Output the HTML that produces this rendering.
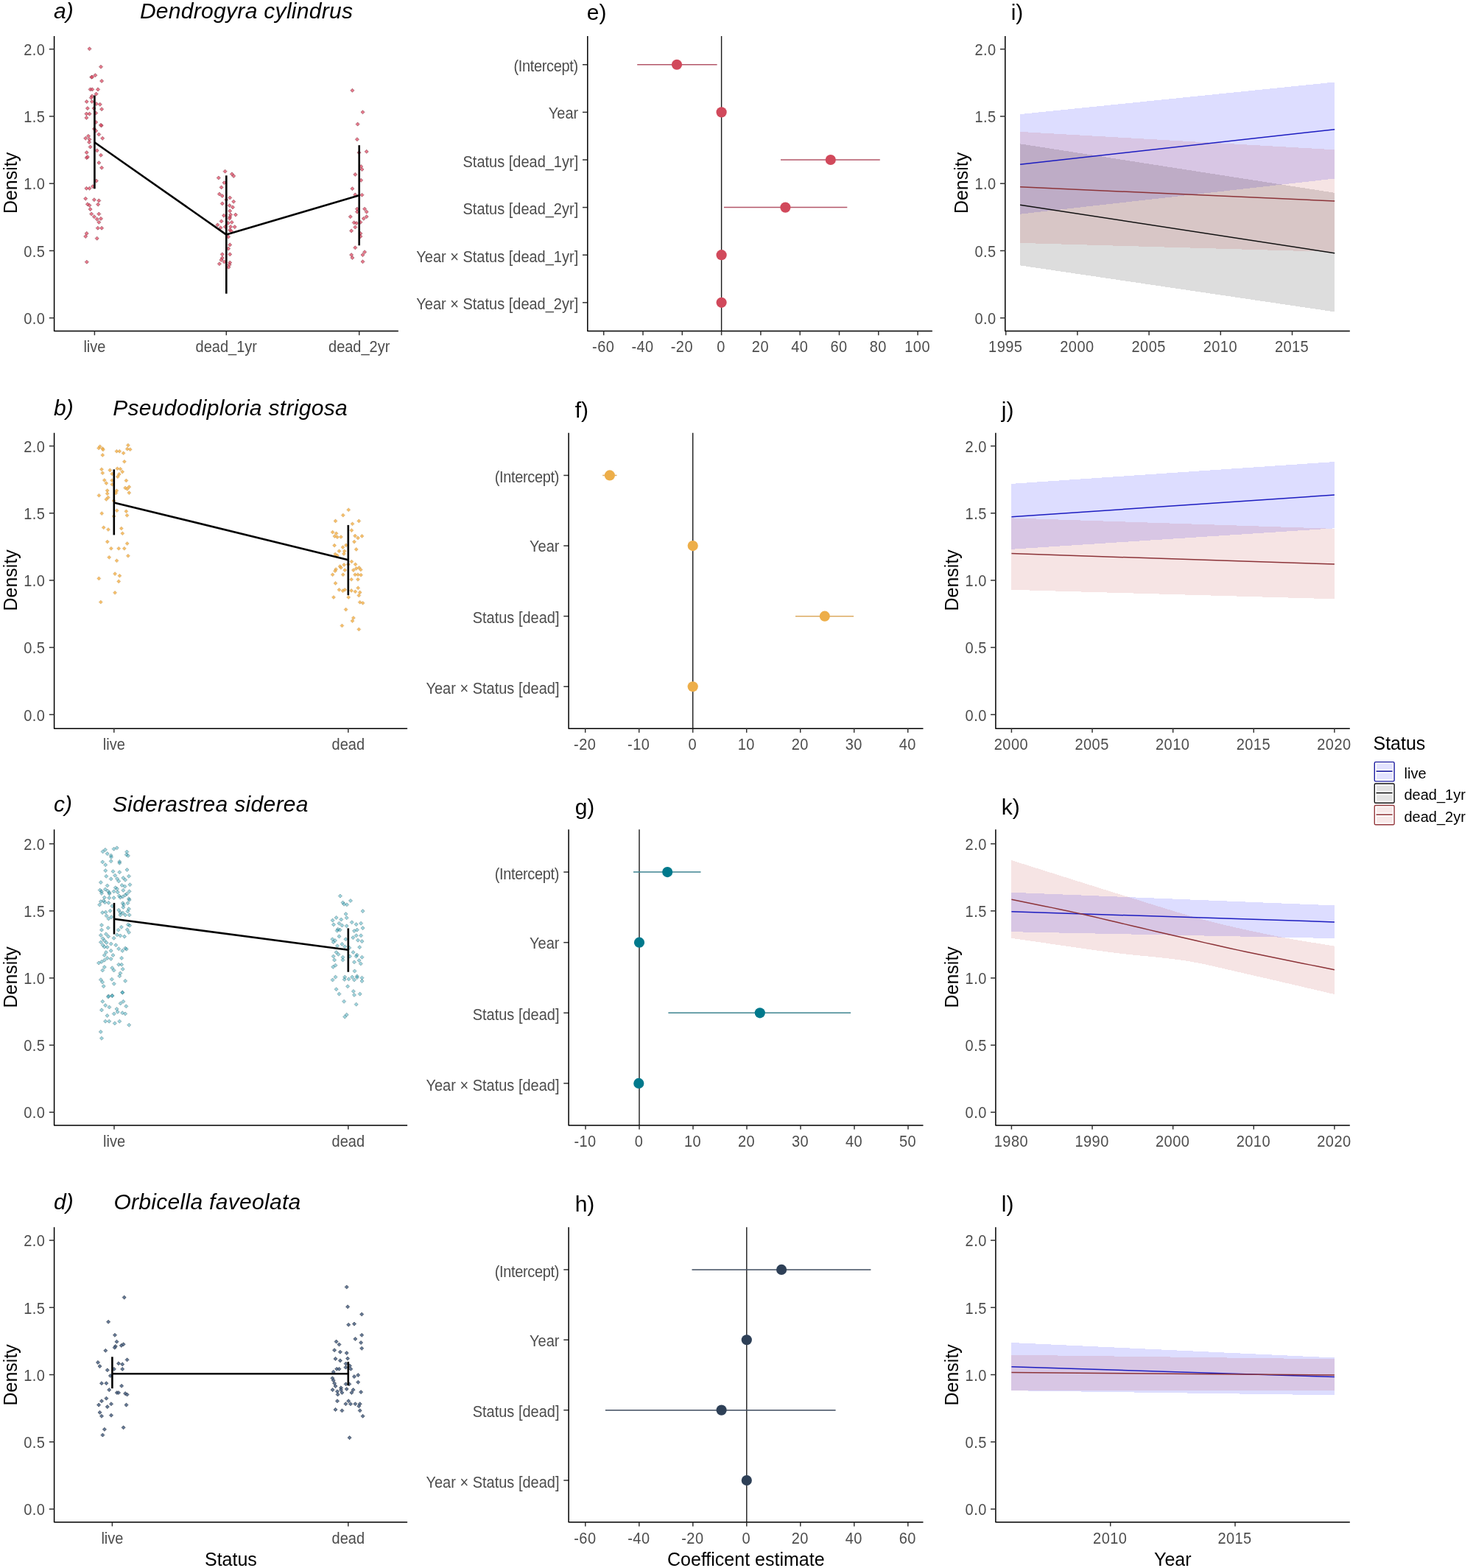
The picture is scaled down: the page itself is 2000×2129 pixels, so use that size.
<!DOCTYPE html>
<html><head><meta charset="utf-8"><title>Coral density figure</title>
<style>
html,body{margin:0;padding:0;background:#fff;}
body{width:2000px;height:2129px;overflow:hidden;}
svg{display:block;font-family:"Liberation Sans", Arial, sans-serif;}
</style></head>
<body>
<svg width="2000" height="2129" viewBox="0 0 2000 2129">
<rect width="2000" height="2129" fill="#fff"/>
<text x="73.1" y="24.5" font-size="30" fill="#000" text-anchor="start" font-style="italic">a)</text>
<text x="189.9" y="24.5" font-size="30" fill="#000" text-anchor="start" font-style="italic" letter-spacing="0.3">Dendrogyra cylindrus</text>
<g fill="#e04c66" fill-opacity="0.75" stroke="#6a2430" stroke-opacity="0.6" stroke-width="0.8">
<path d="M121.5 63.75l2.55 2.55l-2.55 2.55l-2.55 -2.55z"/>
<path d="M137 88.15l2.55 2.55l-2.55 2.55l-2.55 -2.55z"/>
<path d="M129.4 99.65l2.55 2.55l-2.55 2.55l-2.55 -2.55z"/>
<path d="M124.2 102.25l2.55 2.55l-2.55 2.55l-2.55 -2.55z"/>
<path d="M125.3 101.95l2.55 2.55l-2.55 2.55l-2.55 -2.55z"/>
<path d="M138.1 107.45l2.55 2.55l-2.55 2.55l-2.55 -2.55z"/>
<path d="M122.6 118.85l2.55 2.55l-2.55 2.55l-2.55 -2.55z"/>
<path d="M125.3 118.85l2.55 2.55l-2.55 2.55l-2.55 -2.55z"/>
<path d="M133 118.85l2.55 2.55l-2.55 2.55l-2.55 -2.55z"/>
<path d="M130.6 125.05l2.55 2.55l-2.55 2.55l-2.55 -2.55z"/>
<path d="M124.9 127.95l2.55 2.55l-2.55 2.55l-2.55 -2.55z"/>
<path d="M123.8 130.15l2.55 2.55l-2.55 2.55l-2.55 -2.55z"/>
<path d="M117.7 135.45l2.55 2.55l-2.55 2.55l-2.55 -2.55z"/>
<path d="M124.9 135.45l2.55 2.55l-2.55 2.55l-2.55 -2.55z"/>
<path d="M130.9 138.45l2.55 2.55l-2.55 2.55l-2.55 -2.55z"/>
<path d="M135.8 139.25l2.55 2.55l-2.55 2.55l-2.55 -2.55z"/>
<path d="M118.9 144.55l2.55 2.55l-2.55 2.55l-2.55 -2.55z"/>
<path d="M127.5 144.55l2.55 2.55l-2.55 2.55l-2.55 -2.55z"/>
<path d="M138.1 145.65l2.55 2.55l-2.55 2.55l-2.55 -2.55z"/>
<path d="M117.4 152.05l2.55 2.55l-2.55 2.55l-2.55 -2.55z"/>
<path d="M121.5 152.05l2.55 2.55l-2.55 2.55l-2.55 -2.55z"/>
<path d="M130.2 150.95l2.55 2.55l-2.55 2.55l-2.55 -2.55z"/>
<path d="M117.4 157.35l2.55 2.55l-2.55 2.55l-2.55 -2.55z"/>
<path d="M130.2 163.45l2.55 2.55l-2.55 2.55l-2.55 -2.55z"/>
<path d="M137.7 167.95l2.55 2.55l-2.55 2.55l-2.55 -2.55z"/>
<path d="M136.9 167.25l2.55 2.55l-2.55 2.55l-2.55 -2.55z"/>
<path d="M127.9 172.45l2.55 2.55l-2.55 2.55l-2.55 -2.55z"/>
<path d="M130.2 175.05l2.55 2.55l-2.55 2.55l-2.55 -2.55z"/>
<path d="M134.3 179.95l2.55 2.55l-2.55 2.55l-2.55 -2.55z"/>
<path d="M139.2 185.25l2.55 2.55l-2.55 2.55l-2.55 -2.55z"/>
<path d="M116.2 185.25l2.55 2.55l-2.55 2.55l-2.55 -2.55z"/>
<path d="M120 182.25l2.55 2.55l-2.55 2.55l-2.55 -2.55z"/>
<path d="M121.5 186.75l2.55 2.55l-2.55 2.55l-2.55 -2.55z"/>
<path d="M121.1 190.55l2.55 2.55l-2.55 2.55l-2.55 -2.55z"/>
<path d="M122.6 196.95l2.55 2.55l-2.55 2.55l-2.55 -2.55z"/>
<path d="M131.7 201.85l2.55 2.55l-2.55 2.55l-2.55 -2.55z"/>
<path d="M117.7 204.55l2.55 2.55l-2.55 2.55l-2.55 -2.55z"/>
<path d="M137 208.25l2.55 2.55l-2.55 2.55l-2.55 -2.55z"/>
<path d="M117.7 211.65l2.55 2.55l-2.55 2.55l-2.55 -2.55z"/>
<path d="M118.9 210.55l2.55 2.55l-2.55 2.55l-2.55 -2.55z"/>
<path d="M134.3 218.45l2.55 2.55l-2.55 2.55l-2.55 -2.55z"/>
<path d="M138.1 225.25l2.55 2.55l-2.55 2.55l-2.55 -2.55z"/>
<path d="M130.9 243.05l2.55 2.55l-2.55 2.55l-2.55 -2.55z"/>
<path d="M126 250.55l2.55 2.55l-2.55 2.55l-2.55 -2.55z"/>
<path d="M117.4 253.25l2.55 2.55l-2.55 2.55l-2.55 -2.55z"/>
<path d="M121.5 253.25l2.55 2.55l-2.55 2.55l-2.55 -2.55z"/>
<path d="M116.2 267.15l2.55 2.55l-2.55 2.55l-2.55 -2.55z"/>
<path d="M127.9 268.65l2.55 2.55l-2.55 2.55l-2.55 -2.55z"/>
<path d="M134.3 269.85l2.55 2.55l-2.55 2.55l-2.55 -2.55z"/>
<path d="M118.9 274.75l2.55 2.55l-2.55 2.55l-2.55 -2.55z"/>
<path d="M121.5 276.25l2.55 2.55l-2.55 2.55l-2.55 -2.55z"/>
<path d="M133.2 275.05l2.55 2.55l-2.55 2.55l-2.55 -2.55z"/>
<path d="M122.6 281.55l2.55 2.55l-2.55 2.55l-2.55 -2.55z"/>
<path d="M124.2 287.95l2.55 2.55l-2.55 2.55l-2.55 -2.55z"/>
<path d="M134.3 287.95l2.55 2.55l-2.55 2.55l-2.55 -2.55z"/>
<path d="M127.9 291.65l2.55 2.55l-2.55 2.55l-2.55 -2.55z"/>
<path d="M131.7 295.05l2.55 2.55l-2.55 2.55l-2.55 -2.55z"/>
<path d="M137 294.35l2.55 2.55l-2.55 2.55l-2.55 -2.55z"/>
<path d="M134.3 299.25l2.55 2.55l-2.55 2.55l-2.55 -2.55z"/>
<path d="M132.8 307.15l2.55 2.55l-2.55 2.55l-2.55 -2.55z"/>
<path d="M138.1 307.15l2.55 2.55l-2.55 2.55l-2.55 -2.55z"/>
<path d="M117.7 314.35l2.55 2.55l-2.55 2.55l-2.55 -2.55z"/>
<path d="M116.2 318.45l2.55 2.55l-2.55 2.55l-2.55 -2.55z"/>
<path d="M131.7 321.15l2.55 2.55l-2.55 2.55l-2.55 -2.55z"/>
<path d="M117.8 353.15l2.55 2.55l-2.55 2.55l-2.55 -2.55z"/>
<path d="M305.6 230.15l2.55 2.55l-2.55 2.55l-2.55 -2.55z"/>
<path d="M314.9 233.75l2.55 2.55l-2.55 2.55l-2.55 -2.55z"/>
<path d="M317.2 236.45l2.55 2.55l-2.55 2.55l-2.55 -2.55z"/>
<path d="M296.8 238.95l2.55 2.55l-2.55 2.55l-2.55 -2.55z"/>
<path d="M304.5 245.55l2.55 2.55l-2.55 2.55l-2.55 -2.55z"/>
<path d="M300.6 251.85l2.55 2.55l-2.55 2.55l-2.55 -2.55z"/>
<path d="M297.9 260.95l2.55 2.55l-2.55 2.55l-2.55 -2.55z"/>
<path d="M301.8 263.45l2.55 2.55l-2.55 2.55l-2.55 -2.55z"/>
<path d="M312.2 265.95l2.55 2.55l-2.55 2.55l-2.55 -2.55z"/>
<path d="M307.2 268.65l2.55 2.55l-2.55 2.55l-2.55 -2.55z"/>
<path d="M317.2 271.15l2.55 2.55l-2.55 2.55l-2.55 -2.55z"/>
<path d="M301.8 273.85l2.55 2.55l-2.55 2.55l-2.55 -2.55z"/>
<path d="M311.7 276.55l2.55 2.55l-2.55 2.55l-2.55 -2.55z"/>
<path d="M316 278.85l2.55 2.55l-2.55 2.55l-2.55 -2.55z"/>
<path d="M312.2 283.85l2.55 2.55l-2.55 2.55l-2.55 -2.55z"/>
<path d="M304 290.15l2.55 2.55l-2.55 2.55l-2.55 -2.55z"/>
<path d="M313.1 289.05l2.55 2.55l-2.55 2.55l-2.55 -2.55z"/>
<path d="M312.2 292.15l2.55 2.55l-2.55 2.55l-2.55 -2.55z"/>
<path d="M311.7 294.05l2.55 2.55l-2.55 2.55l-2.55 -2.55z"/>
<path d="M319.9 289.05l2.55 2.55l-2.55 2.55l-2.55 -2.55z"/>
<path d="M300.6 297.85l2.55 2.55l-2.55 2.55l-2.55 -2.55z"/>
<path d="M314.7 299.25l2.55 2.55l-2.55 2.55l-2.55 -2.55z"/>
<path d="M309.7 300.35l2.55 2.55l-2.55 2.55l-2.55 -2.55z"/>
<path d="M295.4 302.85l2.55 2.55l-2.55 2.55l-2.55 -2.55z"/>
<path d="M299.5 306.65l2.55 2.55l-2.55 2.55l-2.55 -2.55z"/>
<path d="M305.8 305.35l2.55 2.55l-2.55 2.55l-2.55 -2.55z"/>
<path d="M313.1 305.35l2.55 2.55l-2.55 2.55l-2.55 -2.55z"/>
<path d="M318.7 305.55l2.55 2.55l-2.55 2.55l-2.55 -2.55z"/>
<path d="M312.2 309.85l2.55 2.55l-2.55 2.55l-2.55 -2.55z"/>
<path d="M314 311.25l2.55 2.55l-2.55 2.55l-2.55 -2.55z"/>
<path d="M310.1 318.95l2.55 2.55l-2.55 2.55l-2.55 -2.55z"/>
<path d="M312.2 329.85l2.55 2.55l-2.55 2.55l-2.55 -2.55z"/>
<path d="M310.1 335.05l2.55 2.55l-2.55 2.55l-2.55 -2.55z"/>
<path d="M301.8 342.75l2.55 2.55l-2.55 2.55l-2.55 -2.55z"/>
<path d="M312.2 342.75l2.55 2.55l-2.55 2.55l-2.55 -2.55z"/>
<path d="M301.8 347.75l2.55 2.55l-2.55 2.55l-2.55 -2.55z"/>
<path d="M300.4 350.45l2.55 2.55l-2.55 2.55l-2.55 -2.55z"/>
<path d="M304.5 352.95l2.55 2.55l-2.55 2.55l-2.55 -2.55z"/>
<path d="M297.9 355.65l2.55 2.55l-2.55 2.55l-2.55 -2.55z"/>
<path d="M312.2 354.05l2.55 2.55l-2.55 2.55l-2.55 -2.55z"/>
<path d="M311.5 356.85l2.55 2.55l-2.55 2.55l-2.55 -2.55z"/>
<path d="M310.4 360.25l2.55 2.55l-2.55 2.55l-2.55 -2.55z"/>
<path d="M478.4 120.25l2.55 2.55l-2.55 2.55l-2.55 -2.55z"/>
<path d="M492.5 149.75l2.55 2.55l-2.55 2.55l-2.55 -2.55z"/>
<path d="M485.6 166.05l2.55 2.55l-2.55 2.55l-2.55 -2.55z"/>
<path d="M484.9 186.65l2.55 2.55l-2.55 2.55l-2.55 -2.55z"/>
<path d="M497.7 203.25l2.55 2.55l-2.55 2.55l-2.55 -2.55z"/>
<path d="M487.5 204.65l2.55 2.55l-2.55 2.55l-2.55 -2.55z"/>
<path d="M490.2 223.55l2.55 2.55l-2.55 2.55l-2.55 -2.55z"/>
<path d="M491.5 227.45l2.55 2.55l-2.55 2.55l-2.55 -2.55z"/>
<path d="M482.3 234.35l2.55 2.55l-2.55 2.55l-2.55 -2.55z"/>
<path d="M490.2 242.25l2.55 2.55l-2.55 2.55l-2.55 -2.55z"/>
<path d="M478.4 253.65l2.55 2.55l-2.55 2.55l-2.55 -2.55z"/>
<path d="M482.3 261.85l2.55 2.55l-2.55 2.55l-2.55 -2.55z"/>
<path d="M491.5 262.15l2.55 2.55l-2.55 2.55l-2.55 -2.55z"/>
<path d="M484.9 281.15l2.55 2.55l-2.55 2.55l-2.55 -2.55z"/>
<path d="M484.9 285.05l2.55 2.55l-2.55 2.55l-2.55 -2.55z"/>
<path d="M495.1 281.15l2.55 2.55l-2.55 2.55l-2.55 -2.55z"/>
<path d="M497.7 285.05l2.55 2.55l-2.55 2.55l-2.55 -2.55z"/>
<path d="M475.8 291.65l2.55 2.55l-2.55 2.55l-2.55 -2.55z"/>
<path d="M493.8 294.25l2.55 2.55l-2.55 2.55l-2.55 -2.55z"/>
<path d="M497.7 291.65l2.55 2.55l-2.55 2.55l-2.55 -2.55z"/>
<path d="M480.7 299.75l2.55 2.55l-2.55 2.55l-2.55 -2.55z"/>
<path d="M484 300.45l2.55 2.55l-2.55 2.55l-2.55 -2.55z"/>
<path d="M489.5 299.15l2.55 2.55l-2.55 2.55l-2.55 -2.55z"/>
<path d="M482.3 305.95l2.55 2.55l-2.55 2.55l-2.55 -2.55z"/>
<path d="M477.1 310.85l2.55 2.55l-2.55 2.55l-2.55 -2.55z"/>
<path d="M489.5 314.45l2.55 2.55l-2.55 2.55l-2.55 -2.55z"/>
<path d="M489.5 318.45l2.55 2.55l-2.55 2.55l-2.55 -2.55z"/>
<path d="M482.3 333.75l2.55 2.55l-2.55 2.55l-2.55 -2.55z"/>
<path d="M495.1 339.65l2.55 2.55l-2.55 2.55l-2.55 -2.55z"/>
<path d="M492.5 343.55l2.55 2.55l-2.55 2.55l-2.55 -2.55z"/>
<path d="M477.1 343.55l2.55 2.55l-2.55 2.55l-2.55 -2.55z"/>
<path d="M478.4 347.45l2.55 2.55l-2.55 2.55l-2.55 -2.55z"/>
<path d="M492.5 352.75l2.55 2.55l-2.55 2.55l-2.55 -2.55z"/>
</g>
<path d="M128.4 193.3 L307.3 318.6 L487.7 265.3" fill="none" stroke="#000" stroke-width="2.6" stroke-linejoin="round"/>
<line x1="128.4" y1="129.5" x2="128.4" y2="256.3" stroke="#000" stroke-width="2.6"/>
<line x1="307.3" y1="238.3" x2="307.3" y2="398.7" stroke="#000" stroke-width="2.6"/>
<line x1="487.7" y1="197.2" x2="487.7" y2="333.3" stroke="#000" stroke-width="2.6"/>
<path d="M73.6 49 V449.6 H540.9" fill="none" stroke="#000" stroke-width="1.5" stroke-linejoin="round"/>
<line x1="66.8" y1="431.7" x2="73.6" y2="431.7" stroke="#333333" stroke-width="1.5"/>
<text transform="translate(61.45 432.3) scale(1 1.07)" y="7.15" font-size="20" fill="#4d4d4d" text-anchor="end" letter-spacing="0.45">0.0</text>
<line x1="66.8" y1="340.45" x2="73.6" y2="340.45" stroke="#333333" stroke-width="1.5"/>
<text transform="translate(61.45 341.05) scale(1 1.07)" y="7.15" font-size="20" fill="#4d4d4d" text-anchor="end" letter-spacing="0.45">0.5</text>
<line x1="66.8" y1="249.2" x2="73.6" y2="249.2" stroke="#333333" stroke-width="1.5"/>
<text transform="translate(61.45 249.8) scale(1 1.07)" y="7.15" font-size="20" fill="#4d4d4d" text-anchor="end" letter-spacing="0.45">1.0</text>
<line x1="66.8" y1="157.95" x2="73.6" y2="157.95" stroke="#333333" stroke-width="1.5"/>
<text transform="translate(61.45 158.55) scale(1 1.07)" y="7.15" font-size="20" fill="#4d4d4d" text-anchor="end" letter-spacing="0.45">1.5</text>
<line x1="66.8" y1="66.7" x2="73.6" y2="66.7" stroke="#333333" stroke-width="1.5"/>
<text transform="translate(61.45 67.3) scale(1 1.07)" y="7.15" font-size="20" fill="#4d4d4d" text-anchor="end" letter-spacing="0.45">2.0</text>
<line x1="128.4" y1="449.6" x2="128.4" y2="455.2" stroke="#333333" stroke-width="1.5"/>
<text transform="translate(128.4 470.7) scale(1 1.07)" y="7.15" font-size="20" fill="#4d4d4d" text-anchor="middle">live</text>
<line x1="307.3" y1="449.6" x2="307.3" y2="455.2" stroke="#333333" stroke-width="1.5"/>
<text transform="translate(307.3 470.7) scale(1 1.07)" y="7.15" font-size="20" fill="#4d4d4d" text-anchor="middle">dead_1yr</text>
<line x1="487.7" y1="449.6" x2="487.7" y2="455.2" stroke="#333333" stroke-width="1.5"/>
<text transform="translate(487.7 470.7) scale(1 1.07)" y="7.15" font-size="20" fill="#4d4d4d" text-anchor="middle">dead_2yr</text>
<text x="0" y="0" font-size="25" fill="#000" text-anchor="start" transform="translate(22.8 290.1) rotate(-90) scale(1 1.05)">Density</text>
<text x="796.8" y="27" font-size="30" fill="#000" text-anchor="start">e)</text>
<line x1="979.6" y1="49" x2="979.6" y2="449.6" stroke="#1a1a1a" stroke-width="1.4"/>
<line x1="865.2" y1="87.77" x2="973.6" y2="87.77" stroke="#b35668" stroke-width="1.5"/>
<circle cx="919" cy="87.77" r="7.1" fill="#d1495b"/>
<line x1="791" y1="87.77" x2="797.8" y2="87.77" stroke="#333333" stroke-width="1.5"/>
<text transform="translate(784.87 89.77) scale(1 1.07)" y="7.15" font-size="20" fill="#4d4d4d" text-anchor="end" letter-spacing="-0.33">(Intercept)</text>
<circle cx="979.6" cy="152.38" r="7.1" fill="#d1495b"/>
<line x1="791" y1="152.38" x2="797.8" y2="152.38" stroke="#333333" stroke-width="1.5"/>
<text transform="translate(785.2 152.98) scale(1 1.07)" y="7.15" font-size="20" fill="#4d4d4d" text-anchor="end">Year</text>
<line x1="1060" y1="216.99" x2="1194.8" y2="216.99" stroke="#b35668" stroke-width="1.5"/>
<circle cx="1127.8" cy="216.99" r="7.1" fill="#d1495b"/>
<line x1="791" y1="216.99" x2="797.8" y2="216.99" stroke="#333333" stroke-width="1.5"/>
<text transform="translate(785.2 218.99) scale(1 1.07)" y="7.15" font-size="20" fill="#4d4d4d" text-anchor="end">Status [dead_1yr]</text>
<line x1="982.9" y1="281.61" x2="1150.3" y2="281.61" stroke="#b35668" stroke-width="1.5"/>
<circle cx="1066.4" cy="281.61" r="7.1" fill="#d1495b"/>
<line x1="791" y1="281.61" x2="797.8" y2="281.61" stroke="#333333" stroke-width="1.5"/>
<text transform="translate(785.2 283.61) scale(1 1.07)" y="7.15" font-size="20" fill="#4d4d4d" text-anchor="end">Status [dead_2yr]</text>
<circle cx="979.6" cy="346.22" r="7.1" fill="#d1495b"/>
<line x1="791" y1="346.22" x2="797.8" y2="346.22" stroke="#333333" stroke-width="1.5"/>
<text transform="translate(785.2 348.22) scale(1 1.07)" y="7.15" font-size="20" fill="#4d4d4d" text-anchor="end">Year × Status [dead_1yr]</text>
<circle cx="979.6" cy="410.83" r="7.1" fill="#d1495b"/>
<line x1="791" y1="410.83" x2="797.8" y2="410.83" stroke="#333333" stroke-width="1.5"/>
<text transform="translate(785.2 412.83) scale(1 1.07)" y="7.15" font-size="20" fill="#4d4d4d" text-anchor="end">Year × Status [dead_2yr]</text>
<path d="M797.8 49 V449.6 H1265.9" fill="none" stroke="#000" stroke-width="1.5" stroke-linejoin="round"/>
<line x1="819.7" y1="449.6" x2="819.7" y2="455.2" stroke="#333333" stroke-width="1.5"/>
<text transform="translate(819.23 470.7) scale(1 1.07)" y="7.15" font-size="20" fill="#4d4d4d" text-anchor="middle" letter-spacing="0.45">-60</text>
<line x1="873" y1="449.6" x2="873" y2="455.2" stroke="#333333" stroke-width="1.5"/>
<text transform="translate(872.52 470.7) scale(1 1.07)" y="7.15" font-size="20" fill="#4d4d4d" text-anchor="middle" letter-spacing="0.45">-40</text>
<line x1="926.3" y1="449.6" x2="926.3" y2="455.2" stroke="#333333" stroke-width="1.5"/>
<text transform="translate(925.83 470.7) scale(1 1.07)" y="7.15" font-size="20" fill="#4d4d4d" text-anchor="middle" letter-spacing="0.45">-20</text>
<line x1="979.6" y1="449.6" x2="979.6" y2="455.2" stroke="#333333" stroke-width="1.5"/>
<text transform="translate(979.12 470.7) scale(1 1.07)" y="7.15" font-size="20" fill="#4d4d4d" text-anchor="middle" letter-spacing="0.45">0</text>
<line x1="1032.9" y1="449.6" x2="1032.9" y2="455.2" stroke="#333333" stroke-width="1.5"/>
<text transform="translate(1032.43 470.7) scale(1 1.07)" y="7.15" font-size="20" fill="#4d4d4d" text-anchor="middle" letter-spacing="0.45">20</text>
<line x1="1086.2" y1="449.6" x2="1086.2" y2="455.2" stroke="#333333" stroke-width="1.5"/>
<text transform="translate(1085.73 470.7) scale(1 1.07)" y="7.15" font-size="20" fill="#4d4d4d" text-anchor="middle" letter-spacing="0.45">40</text>
<line x1="1139.5" y1="449.6" x2="1139.5" y2="455.2" stroke="#333333" stroke-width="1.5"/>
<text transform="translate(1139.03 470.7) scale(1 1.07)" y="7.15" font-size="20" fill="#4d4d4d" text-anchor="middle" letter-spacing="0.45">60</text>
<line x1="1192.8" y1="449.6" x2="1192.8" y2="455.2" stroke="#333333" stroke-width="1.5"/>
<text transform="translate(1192.33 470.7) scale(1 1.07)" y="7.15" font-size="20" fill="#4d4d4d" text-anchor="middle" letter-spacing="0.45">80</text>
<line x1="1246.1" y1="449.6" x2="1246.1" y2="455.2" stroke="#333333" stroke-width="1.5"/>
<text transform="translate(1245.62 470.7) scale(1 1.07)" y="7.15" font-size="20" fill="#4d4d4d" text-anchor="middle" letter-spacing="0.45">100</text>
<text x="1372.7" y="27" font-size="30" fill="#000" text-anchor="start">i)</text>
<polygon points="1385.1,155.1 1812.2,111.5 1812.2,242.5 1385.1,290.7" fill="#0000ff" fill-opacity="0.133" shape-rendering="crispEdges"/>
<polygon points="1385.1,195.3 1812.2,261.8 1812.2,423.4 1385.1,360.4" fill="#000000" fill-opacity="0.133" shape-rendering="crispEdges"/>
<polygon points="1385.1,178.9 1812.2,203.3 1812.2,342.1 1385.1,329.9" fill="#bb3838" fill-opacity="0.133" shape-rendering="crispEdges"/>
<path d="M1385.1 223.2 L1812.2 175.7" fill="none" stroke="#1c1cc0" stroke-width="1.5"/>
<path d="M1385.1 278.2 L1812.2 343.7" fill="none" stroke="#111111" stroke-width="1.5"/>
<path d="M1385.1 253.8 L1812.2 273" fill="none" stroke="#8c3338" stroke-width="1.5"/>
<path d="M1364.8 49 V449.6 H1832.8" fill="none" stroke="#000" stroke-width="1.5" stroke-linejoin="round"/>
<line x1="1358" y1="431.7" x2="1364.8" y2="431.7" stroke="#333333" stroke-width="1.5"/>
<text transform="translate(1352.65 432.3) scale(1 1.07)" y="7.15" font-size="20" fill="#4d4d4d" text-anchor="end" letter-spacing="0.45">0.0</text>
<line x1="1358" y1="340.45" x2="1364.8" y2="340.45" stroke="#333333" stroke-width="1.5"/>
<text transform="translate(1352.65 341.05) scale(1 1.07)" y="7.15" font-size="20" fill="#4d4d4d" text-anchor="end" letter-spacing="0.45">0.5</text>
<line x1="1358" y1="249.2" x2="1364.8" y2="249.2" stroke="#333333" stroke-width="1.5"/>
<text transform="translate(1352.65 249.8) scale(1 1.07)" y="7.15" font-size="20" fill="#4d4d4d" text-anchor="end" letter-spacing="0.45">1.0</text>
<line x1="1358" y1="157.95" x2="1364.8" y2="157.95" stroke="#333333" stroke-width="1.5"/>
<text transform="translate(1352.65 158.55) scale(1 1.07)" y="7.15" font-size="20" fill="#4d4d4d" text-anchor="end" letter-spacing="0.45">1.5</text>
<line x1="1358" y1="66.7" x2="1364.8" y2="66.7" stroke="#333333" stroke-width="1.5"/>
<text transform="translate(1352.65 67.3) scale(1 1.07)" y="7.15" font-size="20" fill="#4d4d4d" text-anchor="end" letter-spacing="0.45">2.0</text>
<line x1="1365.7" y1="449.6" x2="1365.7" y2="455.2" stroke="#333333" stroke-width="1.5"/>
<text transform="translate(1365.23 470.7) scale(1 1.07)" y="7.15" font-size="20" fill="#4d4d4d" text-anchor="middle" letter-spacing="0.45">1995</text>
<line x1="1462.9" y1="449.6" x2="1462.9" y2="455.2" stroke="#333333" stroke-width="1.5"/>
<text transform="translate(1462.43 470.7) scale(1 1.07)" y="7.15" font-size="20" fill="#4d4d4d" text-anchor="middle" letter-spacing="0.45">2000</text>
<line x1="1560.1" y1="449.6" x2="1560.1" y2="455.2" stroke="#333333" stroke-width="1.5"/>
<text transform="translate(1559.63 470.7) scale(1 1.07)" y="7.15" font-size="20" fill="#4d4d4d" text-anchor="middle" letter-spacing="0.45">2005</text>
<line x1="1657.3" y1="449.6" x2="1657.3" y2="455.2" stroke="#333333" stroke-width="1.5"/>
<text transform="translate(1656.83 470.7) scale(1 1.07)" y="7.15" font-size="20" fill="#4d4d4d" text-anchor="middle" letter-spacing="0.45">2010</text>
<line x1="1754.5" y1="449.6" x2="1754.5" y2="455.2" stroke="#333333" stroke-width="1.5"/>
<text transform="translate(1754.03 470.7) scale(1 1.07)" y="7.15" font-size="20" fill="#4d4d4d" text-anchor="middle" letter-spacing="0.45">2015</text>
<text x="0" y="0" font-size="25" fill="#000" text-anchor="start" transform="translate(1314.1 290.1) rotate(-90) scale(1 1.05)">Density</text>
<text x="73.1" y="563.5" font-size="30" fill="#000" text-anchor="start" font-style="italic">b)</text>
<text x="153.2" y="563.5" font-size="30" fill="#000" text-anchor="start" font-style="italic" letter-spacing="0.3">Pseudodiploria strigosa</text>
<g fill="#f2ae45" fill-opacity="0.8" stroke="#a88040" stroke-opacity="0.35" stroke-width="0.8">
<path d="M134.1 605.95l2.55 2.55l-2.55 2.55l-2.55 -2.55z"/>
<path d="M135.7 603.75l2.55 2.55l-2.55 2.55l-2.55 -2.55z"/>
<path d="M139.3 606.55l2.55 2.55l-2.55 2.55l-2.55 -2.55z"/>
<path d="M139.9 607.95l2.55 2.55l-2.55 2.55l-2.55 -2.55z"/>
<path d="M173.9 602.05l2.55 2.55l-2.55 2.55l-2.55 -2.55z"/>
<path d="M172.8 607.05l2.55 2.55l-2.55 2.55l-2.55 -2.55z"/>
<path d="M176.7 607.65l2.55 2.55l-2.55 2.55l-2.55 -2.55z"/>
<path d="M158.4 610.15l2.55 2.55l-2.55 2.55l-2.55 -2.55z"/>
<path d="M162.3 610.15l2.55 2.55l-2.55 2.55l-2.55 -2.55z"/>
<path d="M167.6 612.65l2.55 2.55l-2.55 2.55l-2.55 -2.55z"/>
<path d="M139.3 615.35l2.55 2.55l-2.55 2.55l-2.55 -2.55z"/>
<path d="M168.9 624.25l2.55 2.55l-2.55 2.55l-2.55 -2.55z"/>
<path d="M138 634.75l2.55 2.55l-2.55 2.55l-2.55 -2.55z"/>
<path d="M139.3 639.75l2.55 2.55l-2.55 2.55l-2.55 -2.55z"/>
<path d="M149.3 635.85l2.55 2.55l-2.55 2.55l-2.55 -2.55z"/>
<path d="M159.3 633.65l2.55 2.55l-2.55 2.55l-2.55 -2.55z"/>
<path d="M163.4 634.15l2.55 2.55l-2.55 2.55l-2.55 -2.55z"/>
<path d="M166.2 638.05l2.55 2.55l-2.55 2.55l-2.55 -2.55z"/>
<path d="M161.8 641.35l2.55 2.55l-2.55 2.55l-2.55 -2.55z"/>
<path d="M159.8 644.75l2.55 2.55l-2.55 2.55l-2.55 -2.55z"/>
<path d="M152.3 640.85l2.55 2.55l-2.55 2.55l-2.55 -2.55z"/>
<path d="M141.8 649.45l2.55 2.55l-2.55 2.55l-2.55 -2.55z"/>
<path d="M144.3 653.55l2.55 2.55l-2.55 2.55l-2.55 -2.55z"/>
<path d="M152.1 649.65l2.55 2.55l-2.55 2.55l-2.55 -2.55z"/>
<path d="M152.3 655.25l2.55 2.55l-2.55 2.55l-2.55 -2.55z"/>
<path d="M171.4 649.95l2.55 2.55l-2.55 2.55l-2.55 -2.55z"/>
<path d="M170.1 659.95l2.55 2.55l-2.55 2.55l-2.55 -2.55z"/>
<path d="M172.8 661.35l2.55 2.55l-2.55 2.55l-2.55 -2.55z"/>
<path d="M175.3 658.55l2.55 2.55l-2.55 2.55l-2.55 -2.55z"/>
<path d="M175.3 666.55l2.55 2.55l-2.55 2.55l-2.55 -2.55z"/>
<path d="M145.7 663.55l2.55 2.55l-2.55 2.55l-2.55 -2.55z"/>
<path d="M145.7 667.65l2.55 2.55l-2.55 2.55l-2.55 -2.55z"/>
<path d="M158.4 663.75l2.55 2.55l-2.55 2.55l-2.55 -2.55z"/>
<path d="M157.3 666.85l2.55 2.55l-2.55 2.55l-2.55 -2.55z"/>
<path d="M134.4 670.15l2.55 2.55l-2.55 2.55l-2.55 -2.55z"/>
<path d="M146.8 672.95l2.55 2.55l-2.55 2.55l-2.55 -2.55z"/>
<path d="M144.3 675.45l2.55 2.55l-2.55 2.55l-2.55 -2.55z"/>
<path d="M154.6 677.35l2.55 2.55l-2.55 2.55l-2.55 -2.55z"/>
<path d="M158.7 690.65l2.55 2.55l-2.55 2.55l-2.55 -2.55z"/>
<path d="M138.2 694.55l2.55 2.55l-2.55 2.55l-2.55 -2.55z"/>
<path d="M171.4 691.75l2.55 2.55l-2.55 2.55l-2.55 -2.55z"/>
<path d="M172.5 697.25l2.55 2.55l-2.55 2.55l-2.55 -2.55z"/>
<path d="M154.6 698.35l2.55 2.55l-2.55 2.55l-2.55 -2.55z"/>
<path d="M140.7 713.75l2.55 2.55l-2.55 2.55l-2.55 -2.55z"/>
<path d="M147 716.45l2.55 2.55l-2.55 2.55l-2.55 -2.55z"/>
<path d="M164.8 714.95l2.55 2.55l-2.55 2.55l-2.55 -2.55z"/>
<path d="M166.3 721.65l2.55 2.55l-2.55 2.55l-2.55 -2.55z"/>
<path d="M145.8 733.05l2.55 2.55l-2.55 2.55l-2.55 -2.55z"/>
<path d="M172.7 735.45l2.55 2.55l-2.55 2.55l-2.55 -2.55z"/>
<path d="M150.9 742.15l2.55 2.55l-2.55 2.55l-2.55 -2.55z"/>
<path d="M161.2 742.15l2.55 2.55l-2.55 2.55l-2.55 -2.55z"/>
<path d="M168.8 742.15l2.55 2.55l-2.55 2.55l-2.55 -2.55z"/>
<path d="M173.9 752.15l2.55 2.55l-2.55 2.55l-2.55 -2.55z"/>
<path d="M148.2 754.25l2.55 2.55l-2.55 2.55l-2.55 -2.55z"/>
<path d="M158.5 758.75l2.55 2.55l-2.55 2.55l-2.55 -2.55z"/>
<path d="M156.1 776.55l2.55 2.55l-2.55 2.55l-2.55 -2.55z"/>
<path d="M162.4 779.25l2.55 2.55l-2.55 2.55l-2.55 -2.55z"/>
<path d="M134.3 782.85l2.55 2.55l-2.55 2.55l-2.55 -2.55z"/>
<path d="M161.2 786.85l2.55 2.55l-2.55 2.55l-2.55 -2.55z"/>
<path d="M156.1 802.25l2.55 2.55l-2.55 2.55l-2.55 -2.55z"/>
<path d="M136.8 814.95l2.55 2.55l-2.55 2.55l-2.55 -2.55z"/>
<path d="M473.2 689.65l2.55 2.55l-2.55 2.55l-2.55 -2.55z"/>
<path d="M465.8 697.05l2.55 2.55l-2.55 2.55l-2.55 -2.55z"/>
<path d="M455.5 704.85l2.55 2.55l-2.55 2.55l-2.55 -2.55z"/>
<path d="M487.3 704.85l2.55 2.55l-2.55 2.55l-2.55 -2.55z"/>
<path d="M478.5 708.75l2.55 2.55l-2.55 2.55l-2.55 -2.55z"/>
<path d="M477.4 717.55l2.55 2.55l-2.55 2.55l-2.55 -2.55z"/>
<path d="M451.6 720.05l2.55 2.55l-2.55 2.55l-2.55 -2.55z"/>
<path d="M456.6 721.75l2.55 2.55l-2.55 2.55l-2.55 -2.55z"/>
<path d="M454.4 725.55l2.55 2.55l-2.55 2.55l-2.55 -2.55z"/>
<path d="M458 726.75l2.55 2.55l-2.55 2.55l-2.55 -2.55z"/>
<path d="M463 726.45l2.55 2.55l-2.55 2.55l-2.55 -2.55z"/>
<path d="M482.1 725.05l2.55 2.55l-2.55 2.55l-2.55 -2.55z"/>
<path d="M486 727.85l2.55 2.55l-2.55 2.55l-2.55 -2.55z"/>
<path d="M491.5 725.35l2.55 2.55l-2.55 2.55l-2.55 -2.55z"/>
<path d="M481 733.05l2.55 2.55l-2.55 2.55l-2.55 -2.55z"/>
<path d="M454.1 738.05l2.55 2.55l-2.55 2.55l-2.55 -2.55z"/>
<path d="M465.5 740.55l2.55 2.55l-2.55 2.55l-2.55 -2.55z"/>
<path d="M469.9 737.75l2.55 2.55l-2.55 2.55l-2.55 -2.55z"/>
<path d="M483.7 743.35l2.55 2.55l-2.55 2.55l-2.55 -2.55z"/>
<path d="M460.5 745.75l2.55 2.55l-2.55 2.55l-2.55 -2.55z"/>
<path d="M467.7 745.75l2.55 2.55l-2.55 2.55l-2.55 -2.55z"/>
<path d="M466.9 749.35l2.55 2.55l-2.55 2.55l-2.55 -2.55z"/>
<path d="M455.2 749.95l2.55 2.55l-2.55 2.55l-2.55 -2.55z"/>
<path d="M458 751.85l2.55 2.55l-2.55 2.55l-2.55 -2.55z"/>
<path d="M477.4 759.95l2.55 2.55l-2.55 2.55l-2.55 -2.55z"/>
<path d="M467.1 764.35l2.55 2.55l-2.55 2.55l-2.55 -2.55z"/>
<path d="M461.6 766.55l2.55 2.55l-2.55 2.55l-2.55 -2.55z"/>
<path d="M463 768.25l2.55 2.55l-2.55 2.55l-2.55 -2.55z"/>
<path d="M472.9 763.75l2.55 2.55l-2.55 2.55l-2.55 -2.55z"/>
<path d="M482.6 763.75l2.55 2.55l-2.55 2.55l-2.55 -2.55z"/>
<path d="M487.6 768.25l2.55 2.55l-2.55 2.55l-2.55 -2.55z"/>
<path d="M489.8 770.95l2.55 2.55l-2.55 2.55l-2.55 -2.55z"/>
<path d="M479.9 771.55l2.55 2.55l-2.55 2.55l-2.55 -2.55z"/>
<path d="M483.7 769.35l2.55 2.55l-2.55 2.55l-2.55 -2.55z"/>
<path d="M456.1 770.45l2.55 2.55l-2.55 2.55l-2.55 -2.55z"/>
<path d="M455 772.65l2.55 2.55l-2.55 2.55l-2.55 -2.55z"/>
<path d="M468.2 771.55l2.55 2.55l-2.55 2.55l-2.55 -2.55z"/>
<path d="M451.6 777.65l2.55 2.55l-2.55 2.55l-2.55 -2.55z"/>
<path d="M465.8 777.65l2.55 2.55l-2.55 2.55l-2.55 -2.55z"/>
<path d="M482.1 777.65l2.55 2.55l-2.55 2.55l-2.55 -2.55z"/>
<path d="M486 777.65l2.55 2.55l-2.55 2.55l-2.55 -2.55z"/>
<path d="M490.1 778.15l2.55 2.55l-2.55 2.55l-2.55 -2.55z"/>
<path d="M477.1 784.25l2.55 2.55l-2.55 2.55l-2.55 -2.55z"/>
<path d="M486 784.25l2.55 2.55l-2.55 2.55l-2.55 -2.55z"/>
<path d="M455.5 789.35l2.55 2.55l-2.55 2.55l-2.55 -2.55z"/>
<path d="M460.5 798.25l2.55 2.55l-2.55 2.55l-2.55 -2.55z"/>
<path d="M465.5 799.65l2.55 2.55l-2.55 2.55l-2.55 -2.55z"/>
<path d="M468.2 798.25l2.55 2.55l-2.55 2.55l-2.55 -2.55z"/>
<path d="M477.1 799.35l2.55 2.55l-2.55 2.55l-2.55 -2.55z"/>
<path d="M482.4 800.75l2.55 2.55l-2.55 2.55l-2.55 -2.55z"/>
<path d="M486.2 795.75l2.55 2.55l-2.55 2.55l-2.55 -2.55z"/>
<path d="M488.7 801.85l2.55 2.55l-2.55 2.55l-2.55 -2.55z"/>
<path d="M487.3 805.95l2.55 2.55l-2.55 2.55l-2.55 -2.55z"/>
<path d="M453 808.45l2.55 2.55l-2.55 2.55l-2.55 -2.55z"/>
<path d="M473.2 808.45l2.55 2.55l-2.55 2.55l-2.55 -2.55z"/>
<path d="M488.7 815.15l2.55 2.55l-2.55 2.55l-2.55 -2.55z"/>
<path d="M492.6 816.25l2.55 2.55l-2.55 2.55l-2.55 -2.55z"/>
<path d="M469.6 825.05l2.55 2.55l-2.55 2.55l-2.55 -2.55z"/>
<path d="M479.9 836.45l2.55 2.55l-2.55 2.55l-2.55 -2.55z"/>
<path d="M478.5 840.55l2.55 2.55l-2.55 2.55l-2.55 -2.55z"/>
<path d="M464.4 846.95l2.55 2.55l-2.55 2.55l-2.55 -2.55z"/>
<path d="M487.3 851.95l2.55 2.55l-2.55 2.55l-2.55 -2.55z"/>
</g>
<path d="M154.8 682.4 L472.8 760.2" fill="none" stroke="#000" stroke-width="2.6" stroke-linejoin="round"/>
<line x1="154.8" y1="637.4" x2="154.8" y2="726.4" stroke="#000" stroke-width="2.6"/>
<line x1="472.8" y1="712.9" x2="472.8" y2="808.2" stroke="#000" stroke-width="2.6"/>
<path d="M73.6 587.7 V989.2 H553.1" fill="none" stroke="#000" stroke-width="1.5" stroke-linejoin="round"/>
<line x1="66.8" y1="970.3" x2="73.6" y2="970.3" stroke="#333333" stroke-width="1.5"/>
<text transform="translate(61.45 970.9) scale(1 1.07)" y="7.15" font-size="20" fill="#4d4d4d" text-anchor="end" letter-spacing="0.45">0.0</text>
<line x1="66.8" y1="879.12" x2="73.6" y2="879.12" stroke="#333333" stroke-width="1.5"/>
<text transform="translate(61.45 879.73) scale(1 1.07)" y="7.15" font-size="20" fill="#4d4d4d" text-anchor="end" letter-spacing="0.45">0.5</text>
<line x1="66.8" y1="787.95" x2="73.6" y2="787.95" stroke="#333333" stroke-width="1.5"/>
<text transform="translate(61.45 788.55) scale(1 1.07)" y="7.15" font-size="20" fill="#4d4d4d" text-anchor="end" letter-spacing="0.45">1.0</text>
<line x1="66.8" y1="696.77" x2="73.6" y2="696.77" stroke="#333333" stroke-width="1.5"/>
<text transform="translate(61.45 697.38) scale(1 1.07)" y="7.15" font-size="20" fill="#4d4d4d" text-anchor="end" letter-spacing="0.45">1.5</text>
<line x1="66.8" y1="605.6" x2="73.6" y2="605.6" stroke="#333333" stroke-width="1.5"/>
<text transform="translate(61.45 606.2) scale(1 1.07)" y="7.15" font-size="20" fill="#4d4d4d" text-anchor="end" letter-spacing="0.45">2.0</text>
<line x1="154.8" y1="989.2" x2="154.8" y2="994.8" stroke="#333333" stroke-width="1.5"/>
<text transform="translate(154.8 1010.3) scale(1 1.07)" y="7.15" font-size="20" fill="#4d4d4d" text-anchor="middle">live</text>
<line x1="472.8" y1="989.2" x2="472.8" y2="994.8" stroke="#333333" stroke-width="1.5"/>
<text transform="translate(472.8 1010.3) scale(1 1.07)" y="7.15" font-size="20" fill="#4d4d4d" text-anchor="middle">dead</text>
<text x="0" y="0" font-size="25" fill="#000" text-anchor="start" transform="translate(22.8 829.5) rotate(-90) scale(1 1.05)">Density</text>
<text x="780.7" y="567" font-size="30" fill="#000" text-anchor="start">f)</text>
<line x1="940.7" y1="587.7" x2="940.7" y2="989.2" stroke="#1a1a1a" stroke-width="1.4"/>
<line x1="818.2" y1="645.46" x2="837.5" y2="645.46" stroke="#dcab62" stroke-width="1.5"/>
<circle cx="827.9" cy="645.46" r="7.1" fill="#edae49"/>
<line x1="765.3" y1="645.46" x2="772.1" y2="645.46" stroke="#333333" stroke-width="1.5"/>
<text transform="translate(759.17 647.46) scale(1 1.07)" y="7.15" font-size="20" fill="#4d4d4d" text-anchor="end" letter-spacing="-0.33">(Intercept)</text>
<circle cx="940.7" cy="741.05" r="7.1" fill="#edae49"/>
<line x1="765.3" y1="741.05" x2="772.1" y2="741.05" stroke="#333333" stroke-width="1.5"/>
<text transform="translate(759.5 741.65) scale(1 1.07)" y="7.15" font-size="20" fill="#4d4d4d" text-anchor="end">Year</text>
<line x1="1080" y1="836.65" x2="1159.1" y2="836.65" stroke="#dcab62" stroke-width="1.5"/>
<circle cx="1119.8" cy="836.65" r="7.1" fill="#edae49"/>
<line x1="765.3" y1="836.65" x2="772.1" y2="836.65" stroke="#333333" stroke-width="1.5"/>
<text transform="translate(759.5 838.65) scale(1 1.07)" y="7.15" font-size="20" fill="#4d4d4d" text-anchor="end">Status [dead]</text>
<circle cx="940.7" cy="932.24" r="7.1" fill="#edae49"/>
<line x1="765.3" y1="932.24" x2="772.1" y2="932.24" stroke="#333333" stroke-width="1.5"/>
<text transform="translate(759.5 934.24) scale(1 1.07)" y="7.15" font-size="20" fill="#4d4d4d" text-anchor="end">Year × Status [dead]</text>
<path d="M772.1 587.7 V989.2 H1253.5" fill="none" stroke="#000" stroke-width="1.5" stroke-linejoin="round"/>
<line x1="794.7" y1="989.2" x2="794.7" y2="994.8" stroke="#333333" stroke-width="1.5"/>
<text transform="translate(794.23 1010.3) scale(1 1.07)" y="7.15" font-size="20" fill="#4d4d4d" text-anchor="middle" letter-spacing="0.45">-20</text>
<line x1="867.7" y1="989.2" x2="867.7" y2="994.8" stroke="#333333" stroke-width="1.5"/>
<text transform="translate(867.23 1010.3) scale(1 1.07)" y="7.15" font-size="20" fill="#4d4d4d" text-anchor="middle" letter-spacing="0.45">-10</text>
<line x1="940.7" y1="989.2" x2="940.7" y2="994.8" stroke="#333333" stroke-width="1.5"/>
<text transform="translate(940.23 1010.3) scale(1 1.07)" y="7.15" font-size="20" fill="#4d4d4d" text-anchor="middle" letter-spacing="0.45">0</text>
<line x1="1013.7" y1="989.2" x2="1013.7" y2="994.8" stroke="#333333" stroke-width="1.5"/>
<text transform="translate(1013.23 1010.3) scale(1 1.07)" y="7.15" font-size="20" fill="#4d4d4d" text-anchor="middle" letter-spacing="0.45">10</text>
<line x1="1086.7" y1="989.2" x2="1086.7" y2="994.8" stroke="#333333" stroke-width="1.5"/>
<text transform="translate(1086.23 1010.3) scale(1 1.07)" y="7.15" font-size="20" fill="#4d4d4d" text-anchor="middle" letter-spacing="0.45">20</text>
<line x1="1159.7" y1="989.2" x2="1159.7" y2="994.8" stroke="#333333" stroke-width="1.5"/>
<text transform="translate(1159.23 1010.3) scale(1 1.07)" y="7.15" font-size="20" fill="#4d4d4d" text-anchor="middle" letter-spacing="0.45">30</text>
<line x1="1232.7" y1="989.2" x2="1232.7" y2="994.8" stroke="#333333" stroke-width="1.5"/>
<text transform="translate(1232.23 1010.3) scale(1 1.07)" y="7.15" font-size="20" fill="#4d4d4d" text-anchor="middle" letter-spacing="0.45">40</text>
<text x="1359.8" y="567" font-size="30" fill="#000" text-anchor="start">j)</text>
<polygon points="1373.4,656.9 1811.9,627 1811.9,717.3 1373.4,745.8" fill="#0000ff" fill-opacity="0.133" shape-rendering="crispEdges"/>
<polygon points="1373.4,703.4 1811.9,717.9 1811.9,813.3 1373.4,800.8" fill="#bb3838" fill-opacity="0.133" shape-rendering="crispEdges"/>
<path d="M1373.4 701.8 L1811.9 672" fill="none" stroke="#1c1cc0" stroke-width="1.5"/>
<path d="M1373.4 751.6 L1811.9 766.1" fill="none" stroke="#8c3338" stroke-width="1.5"/>
<path d="M1351.9 587.7 V989.2 H1832.8" fill="none" stroke="#000" stroke-width="1.5" stroke-linejoin="round"/>
<line x1="1345.1" y1="970.3" x2="1351.9" y2="970.3" stroke="#333333" stroke-width="1.5"/>
<text transform="translate(1339.75 970.9) scale(1 1.07)" y="7.15" font-size="20" fill="#4d4d4d" text-anchor="end" letter-spacing="0.45">0.0</text>
<line x1="1345.1" y1="879.12" x2="1351.9" y2="879.12" stroke="#333333" stroke-width="1.5"/>
<text transform="translate(1339.75 879.73) scale(1 1.07)" y="7.15" font-size="20" fill="#4d4d4d" text-anchor="end" letter-spacing="0.45">0.5</text>
<line x1="1345.1" y1="787.95" x2="1351.9" y2="787.95" stroke="#333333" stroke-width="1.5"/>
<text transform="translate(1339.75 788.55) scale(1 1.07)" y="7.15" font-size="20" fill="#4d4d4d" text-anchor="end" letter-spacing="0.45">1.0</text>
<line x1="1345.1" y1="696.77" x2="1351.9" y2="696.77" stroke="#333333" stroke-width="1.5"/>
<text transform="translate(1339.75 697.38) scale(1 1.07)" y="7.15" font-size="20" fill="#4d4d4d" text-anchor="end" letter-spacing="0.45">1.5</text>
<line x1="1345.1" y1="605.6" x2="1351.9" y2="605.6" stroke="#333333" stroke-width="1.5"/>
<text transform="translate(1339.75 606.2) scale(1 1.07)" y="7.15" font-size="20" fill="#4d4d4d" text-anchor="end" letter-spacing="0.45">2.0</text>
<line x1="1373.4" y1="989.2" x2="1373.4" y2="994.8" stroke="#333333" stroke-width="1.5"/>
<text transform="translate(1372.93 1010.3) scale(1 1.07)" y="7.15" font-size="20" fill="#4d4d4d" text-anchor="middle" letter-spacing="0.45">2000</text>
<line x1="1483.03" y1="989.2" x2="1483.03" y2="994.8" stroke="#333333" stroke-width="1.5"/>
<text transform="translate(1482.55 1010.3) scale(1 1.07)" y="7.15" font-size="20" fill="#4d4d4d" text-anchor="middle" letter-spacing="0.45">2005</text>
<line x1="1592.65" y1="989.2" x2="1592.65" y2="994.8" stroke="#333333" stroke-width="1.5"/>
<text transform="translate(1592.18 1010.3) scale(1 1.07)" y="7.15" font-size="20" fill="#4d4d4d" text-anchor="middle" letter-spacing="0.45">2010</text>
<line x1="1702.28" y1="989.2" x2="1702.28" y2="994.8" stroke="#333333" stroke-width="1.5"/>
<text transform="translate(1701.8 1010.3) scale(1 1.07)" y="7.15" font-size="20" fill="#4d4d4d" text-anchor="middle" letter-spacing="0.45">2015</text>
<line x1="1811.9" y1="989.2" x2="1811.9" y2="994.8" stroke="#333333" stroke-width="1.5"/>
<text transform="translate(1811.43 1010.3) scale(1 1.07)" y="7.15" font-size="20" fill="#4d4d4d" text-anchor="middle" letter-spacing="0.45">2020</text>
<text x="0" y="0" font-size="25" fill="#000" text-anchor="start" transform="translate(1301.1 829.5) rotate(-90) scale(1 1.05)">Density</text>
<text x="73.1" y="1102" font-size="30" fill="#000" text-anchor="start" font-style="italic">c)</text>
<text x="152.8" y="1102" font-size="30" fill="#000" text-anchor="start" font-style="italic" letter-spacing="0.3">Siderastrea siderea</text>
<g fill="#1a9ab0" fill-opacity="0.42" stroke="#1d4f5a" stroke-opacity="0.45" stroke-width="0.8">
<path d="M139.6 1153.75l2.55 2.55l-2.55 2.55l-2.55 -2.55z"/>
<path d="M142.9 1151.25l2.55 2.55l-2.55 2.55l-2.55 -2.55z"/>
<path d="M154.6 1150.15l2.55 2.55l-2.55 2.55l-2.55 -2.55z"/>
<path d="M158.7 1148.75l2.55 2.55l-2.55 2.55l-2.55 -2.55z"/>
<path d="M145.7 1156.55l2.55 2.55l-2.55 2.55l-2.55 -2.55z"/>
<path d="M150.7 1159.05l2.55 2.55l-2.55 2.55l-2.55 -2.55z"/>
<path d="M151 1161.25l2.55 2.55l-2.55 2.55l-2.55 -2.55z"/>
<path d="M172.3 1154.05l2.55 2.55l-2.55 2.55l-2.55 -2.55z"/>
<path d="M171.7 1157.95l2.55 2.55l-2.55 2.55l-2.55 -2.55z"/>
<path d="M173.9 1159.35l2.55 2.55l-2.55 2.55l-2.55 -2.55z"/>
<path d="M139.3 1167.85l2.55 2.55l-2.55 2.55l-2.55 -2.55z"/>
<path d="M143.2 1171.75l2.55 2.55l-2.55 2.55l-2.55 -2.55z"/>
<path d="M150.7 1166.75l2.55 2.55l-2.55 2.55l-2.55 -2.55z"/>
<path d="M162.3 1167.35l2.55 2.55l-2.55 2.55l-2.55 -2.55z"/>
<path d="M162.3 1169.25l2.55 2.55l-2.55 2.55l-2.55 -2.55z"/>
<path d="M143.2 1179.55l2.55 2.55l-2.55 2.55l-2.55 -2.55z"/>
<path d="M153.5 1180.65l2.55 2.55l-2.55 2.55l-2.55 -2.55z"/>
<path d="M162.3 1181.75l2.55 2.55l-2.55 2.55l-2.55 -2.55z"/>
<path d="M172.5 1178.45l2.55 2.55l-2.55 2.55l-2.55 -2.55z"/>
<path d="M144.3 1187.25l2.55 2.55l-2.55 2.55l-2.55 -2.55z"/>
<path d="M150.7 1190.85l2.55 2.55l-2.55 2.55l-2.55 -2.55z"/>
<path d="M156.2 1186.15l2.55 2.55l-2.55 2.55l-2.55 -2.55z"/>
<path d="M159 1190.55l2.55 2.55l-2.55 2.55l-2.55 -2.55z"/>
<path d="M161.2 1193.85l2.55 2.55l-2.55 2.55l-2.55 -2.55z"/>
<path d="M167.3 1189.45l2.55 2.55l-2.55 2.55l-2.55 -2.55z"/>
<path d="M170.1 1192.25l2.55 2.55l-2.55 2.55l-2.55 -2.55z"/>
<path d="M175 1187.25l2.55 2.55l-2.55 2.55l-2.55 -2.55z"/>
<path d="M136.9 1195.55l2.55 2.55l-2.55 2.55l-2.55 -2.55z"/>
<path d="M145.7 1199.95l2.55 2.55l-2.55 2.55l-2.55 -2.55z"/>
<path d="M165.6 1199.45l2.55 2.55l-2.55 2.55l-2.55 -2.55z"/>
<path d="M169.5 1201.05l2.55 2.55l-2.55 2.55l-2.55 -2.55z"/>
<path d="M176.4 1198.65l2.55 2.55l-2.55 2.55l-2.55 -2.55z"/>
<path d="M135.7 1206.05l2.55 2.55l-2.55 2.55l-2.55 -2.55z"/>
<path d="M138 1207.75l2.55 2.55l-2.55 2.55l-2.55 -2.55z"/>
<path d="M138 1210.45l2.55 2.55l-2.55 2.55l-2.55 -2.55z"/>
<path d="M142.9 1204.95l2.55 2.55l-2.55 2.55l-2.55 -2.55z"/>
<path d="M146.3 1207.15l2.55 2.55l-2.55 2.55l-2.55 -2.55z"/>
<path d="M148.5 1209.35l2.55 2.55l-2.55 2.55l-2.55 -2.55z"/>
<path d="M154.6 1207.75l2.55 2.55l-2.55 2.55l-2.55 -2.55z"/>
<path d="M156.8 1202.75l2.55 2.55l-2.55 2.55l-2.55 -2.55z"/>
<path d="M159 1204.45l2.55 2.55l-2.55 2.55l-2.55 -2.55z"/>
<path d="M159.8 1208.85l2.55 2.55l-2.55 2.55l-2.55 -2.55z"/>
<path d="M167.3 1206.35l2.55 2.55l-2.55 2.55l-2.55 -2.55z"/>
<path d="M175.6 1207.75l2.55 2.55l-2.55 2.55l-2.55 -2.55z"/>
<path d="M148.5 1211.05l2.55 2.55l-2.55 2.55l-2.55 -2.55z"/>
<path d="M141.8 1216.05l2.55 2.55l-2.55 2.55l-2.55 -2.55z"/>
<path d="M148.2 1216.55l2.55 2.55l-2.55 2.55l-2.55 -2.55z"/>
<path d="M154.6 1216.55l2.55 2.55l-2.55 2.55l-2.55 -2.55z"/>
<path d="M161.8 1213.85l2.55 2.55l-2.55 2.55l-2.55 -2.55z"/>
<path d="M163.4 1216.05l2.55 2.55l-2.55 2.55l-2.55 -2.55z"/>
<path d="M166.7 1214.95l2.55 2.55l-2.55 2.55l-2.55 -2.55z"/>
<path d="M170.1 1212.75l2.55 2.55l-2.55 2.55l-2.55 -2.55z"/>
<path d="M172.3 1211.05l2.55 2.55l-2.55 2.55l-2.55 -2.55z"/>
<path d="M175 1217.65l2.55 2.55l-2.55 2.55l-2.55 -2.55z"/>
<path d="M175.6 1219.35l2.55 2.55l-2.55 2.55l-2.55 -2.55z"/>
<path d="M135.2 1225.95l2.55 2.55l-2.55 2.55l-2.55 -2.55z"/>
<path d="M136.9 1221.55l2.55 2.55l-2.55 2.55l-2.55 -2.55z"/>
<path d="M140.7 1220.45l2.55 2.55l-2.55 2.55l-2.55 -2.55z"/>
<path d="M142.4 1222.65l2.55 2.55l-2.55 2.55l-2.55 -2.55z"/>
<path d="M147.4 1223.25l2.55 2.55l-2.55 2.55l-2.55 -2.55z"/>
<path d="M166.7 1223.75l2.55 2.55l-2.55 2.55l-2.55 -2.55z"/>
<path d="M167.8 1225.95l2.55 2.55l-2.55 2.55l-2.55 -2.55z"/>
<path d="M173.4 1223.75l2.55 2.55l-2.55 2.55l-2.55 -2.55z"/>
<path d="M152.3 1227.65l2.55 2.55l-2.55 2.55l-2.55 -2.55z"/>
<path d="M167.3 1229.35l2.55 2.55l-2.55 2.55l-2.55 -2.55z"/>
<path d="M175 1231.55l2.55 2.55l-2.55 2.55l-2.55 -2.55z"/>
<path d="M173.4 1234.85l2.55 2.55l-2.55 2.55l-2.55 -2.55z"/>
<path d="M161.2 1233.15l2.55 2.55l-2.55 2.55l-2.55 -2.55z"/>
<path d="M149.6 1234.25l2.55 2.55l-2.55 2.55l-2.55 -2.55z"/>
<path d="M143.5 1235.95l2.55 2.55l-2.55 2.55l-2.55 -2.55z"/>
<path d="M139.1 1236.55l2.55 2.55l-2.55 2.55l-2.55 -2.55z"/>
<path d="M163.4 1236.55l2.55 2.55l-2.55 2.55l-2.55 -2.55z"/>
<path d="M166.7 1237.05l2.55 2.55l-2.55 2.55l-2.55 -2.55z"/>
<path d="M144.6 1240.95l2.55 2.55l-2.55 2.55l-2.55 -2.55z"/>
<path d="M147.4 1244.85l2.55 2.55l-2.55 2.55l-2.55 -2.55z"/>
<path d="M163.4 1239.85l2.55 2.55l-2.55 2.55l-2.55 -2.55z"/>
<path d="M170.1 1239.85l2.55 2.55l-2.55 2.55l-2.55 -2.55z"/>
<path d="M175.6 1239.85l2.55 2.55l-2.55 2.55l-2.55 -2.55z"/>
<path d="M151.2 1242.55l2.55 2.55l-2.55 2.55l-2.55 -2.55z"/>
<path d="M138 1253.55l2.55 2.55l-2.55 2.55l-2.55 -2.55z"/>
<path d="M146.8 1257.35l2.55 2.55l-2.55 2.55l-2.55 -2.55z"/>
<path d="M138 1260.15l2.55 2.55l-2.55 2.55l-2.55 -2.55z"/>
<path d="M144 1265.65l2.55 2.55l-2.55 2.55l-2.55 -2.55z"/>
<path d="M147.1 1269.05l2.55 2.55l-2.55 2.55l-2.55 -2.55z"/>
<path d="M136.9 1267.35l2.55 2.55l-2.55 2.55l-2.55 -2.55z"/>
<path d="M139.6 1271.75l2.55 2.55l-2.55 2.55l-2.55 -2.55z"/>
<path d="M141.8 1274.55l2.55 2.55l-2.55 2.55l-2.55 -2.55z"/>
<path d="M144.6 1277.35l2.55 2.55l-2.55 2.55l-2.55 -2.55z"/>
<path d="M136.9 1276.75l2.55 2.55l-2.55 2.55l-2.55 -2.55z"/>
<path d="M139.6 1280.65l2.55 2.55l-2.55 2.55l-2.55 -2.55z"/>
<path d="M141.8 1283.15l2.55 2.55l-2.55 2.55l-2.55 -2.55z"/>
<path d="M145.7 1283.45l2.55 2.55l-2.55 2.55l-2.55 -2.55z"/>
<path d="M150.7 1278.95l2.55 2.55l-2.55 2.55l-2.55 -2.55z"/>
<path d="M157.3 1280.65l2.55 2.55l-2.55 2.55l-2.55 -2.55z"/>
<path d="M161.2 1285.65l2.55 2.55l-2.55 2.55l-2.55 -2.55z"/>
<path d="M166.2 1288.35l2.55 2.55l-2.55 2.55l-2.55 -2.55z"/>
<path d="M170.1 1285.05l2.55 2.55l-2.55 2.55l-2.55 -2.55z"/>
<path d="M171.7 1286.15l2.55 2.55l-2.55 2.55l-2.55 -2.55z"/>
<path d="M150.7 1288.35l2.55 2.55l-2.55 2.55l-2.55 -2.55z"/>
<path d="M144 1290.55l2.55 2.55l-2.55 2.55l-2.55 -2.55z"/>
<path d="M141.8 1294.45l2.55 2.55l-2.55 2.55l-2.55 -2.55z"/>
<path d="M153.5 1294.45l2.55 2.55l-2.55 2.55l-2.55 -2.55z"/>
<path d="M145.7 1298.35l2.55 2.55l-2.55 2.55l-2.55 -2.55z"/>
<path d="M141.8 1301.15l2.55 2.55l-2.55 2.55l-2.55 -2.55z"/>
<path d="M138 1303.35l2.55 2.55l-2.55 2.55l-2.55 -2.55z"/>
<path d="M134.1 1304.95l2.55 2.55l-2.55 2.55l-2.55 -2.55z"/>
<path d="M150.7 1299.45l2.55 2.55l-2.55 2.55l-2.55 -2.55z"/>
<path d="M165.1 1298.35l2.55 2.55l-2.55 2.55l-2.55 -2.55z"/>
<path d="M161.2 1307.15l2.55 2.55l-2.55 2.55l-2.55 -2.55z"/>
<path d="M165.1 1307.15l2.55 2.55l-2.55 2.55l-2.55 -2.55z"/>
<path d="M166.7 1313.25l2.55 2.55l-2.55 2.55l-2.55 -2.55z"/>
<path d="M141.8 1310.55l2.55 2.55l-2.55 2.55l-2.55 -2.55z"/>
<path d="M139.3 1314.95l2.55 2.55l-2.55 2.55l-2.55 -2.55z"/>
<path d="M152.3 1311.65l2.55 2.55l-2.55 2.55l-2.55 -2.55z"/>
<path d="M154.6 1314.95l2.55 2.55l-2.55 2.55l-2.55 -2.55z"/>
<path d="M163.4 1318.85l2.55 2.55l-2.55 2.55l-2.55 -2.55z"/>
<path d="M162.3 1322.65l2.55 2.55l-2.55 2.55l-2.55 -2.55z"/>
<path d="M136.9 1327.65l2.55 2.55l-2.55 2.55l-2.55 -2.55z"/>
<path d="M139.1 1330.95l2.55 2.55l-2.55 2.55l-2.55 -2.55z"/>
<path d="M140.7 1336.55l2.55 2.55l-2.55 2.55l-2.55 -2.55z"/>
<path d="M151.8 1327.15l2.55 2.55l-2.55 2.55l-2.55 -2.55z"/>
<path d="M154.8 1333.25l2.55 2.55l-2.55 2.55l-2.55 -2.55z"/>
<path d="M170.1 1329.35l2.55 2.55l-2.55 2.55l-2.55 -2.55z"/>
<path d="M166.2 1344.85l2.55 2.55l-2.55 2.55l-2.55 -2.55z"/>
<path d="M147.4 1349.85l2.55 2.55l-2.55 2.55l-2.55 -2.55z"/>
<path d="M152.3 1349.25l2.55 2.55l-2.55 2.55l-2.55 -2.55z"/>
<path d="M164.8 1256.25l2.55 2.55l-2.55 2.55l-2.55 -2.55z"/>
<path d="M160.7 1260.15l2.55 2.55l-2.55 2.55l-2.55 -2.55z"/>
<path d="M159 1266.75l2.55 2.55l-2.55 2.55l-2.55 -2.55z"/>
<path d="M154.6 1271.25l2.55 2.55l-2.55 2.55l-2.55 -2.55z"/>
<path d="M163.4 1267.95l2.55 2.55l-2.55 2.55l-2.55 -2.55z"/>
<path d="M169 1269.05l2.55 2.55l-2.55 2.55l-2.55 -2.55z"/>
<path d="M173.9 1252.95l2.55 2.55l-2.55 2.55l-2.55 -2.55z"/>
<path d="M176.1 1254.05l2.55 2.55l-2.55 2.55l-2.55 -2.55z"/>
<path d="M172.8 1259.65l2.55 2.55l-2.55 2.55l-2.55 -2.55z"/>
<path d="M175 1263.45l2.55 2.55l-2.55 2.55l-2.55 -2.55z"/>
<path d="M166.4 1345.25l2.55 2.55l-2.55 2.55l-2.55 -2.55z"/>
<path d="M147 1350.95l2.55 2.55l-2.55 2.55l-2.55 -2.55z"/>
<path d="M152.3 1349.65l2.55 2.55l-2.55 2.55l-2.55 -2.55z"/>
<path d="M139.3 1357.25l2.55 2.55l-2.55 2.55l-2.55 -2.55z"/>
<path d="M143.1 1362.55l2.55 2.55l-2.55 2.55l-2.55 -2.55z"/>
<path d="M148.4 1364.95l2.55 2.55l-2.55 2.55l-2.55 -2.55z"/>
<path d="M163.6 1359.85l2.55 2.55l-2.55 2.55l-2.55 -2.55z"/>
<path d="M167.4 1357.25l2.55 2.55l-2.55 2.55l-2.55 -2.55z"/>
<path d="M171.3 1363.75l2.55 2.55l-2.55 2.55l-2.55 -2.55z"/>
<path d="M138 1368.85l2.55 2.55l-2.55 2.55l-2.55 -2.55z"/>
<path d="M158.5 1367.45l2.55 2.55l-2.55 2.55l-2.55 -2.55z"/>
<path d="M159.7 1371.35l2.55 2.55l-2.55 2.55l-2.55 -2.55z"/>
<path d="M154.8 1373.95l2.55 2.55l-2.55 2.55l-2.55 -2.55z"/>
<path d="M166.2 1372.75l2.55 2.55l-2.55 2.55l-2.55 -2.55z"/>
<path d="M170.1 1373.95l2.55 2.55l-2.55 2.55l-2.55 -2.55z"/>
<path d="M145.6 1376.45l2.55 2.55l-2.55 2.55l-2.55 -2.55z"/>
<path d="M143.1 1384.15l2.55 2.55l-2.55 2.55l-2.55 -2.55z"/>
<path d="M148.2 1384.15l2.55 2.55l-2.55 2.55l-2.55 -2.55z"/>
<path d="M155.8 1386.85l2.55 2.55l-2.55 2.55l-2.55 -2.55z"/>
<path d="M162.3 1384.15l2.55 2.55l-2.55 2.55l-2.55 -2.55z"/>
<path d="M175.2 1389.25l2.55 2.55l-2.55 2.55l-2.55 -2.55z"/>
<path d="M136.8 1398.45l2.55 2.55l-2.55 2.55l-2.55 -2.55z"/>
<path d="M138 1407.25l2.55 2.55l-2.55 2.55l-2.55 -2.55z"/>
<path d="M461.9 1214.05l2.55 2.55l-2.55 2.55l-2.55 -2.55z"/>
<path d="M476 1220.45l2.55 2.55l-2.55 2.55l-2.55 -2.55z"/>
<path d="M465.5 1222.95l2.55 2.55l-2.55 2.55l-2.55 -2.55z"/>
<path d="M467.1 1225.15l2.55 2.55l-2.55 2.55l-2.55 -2.55z"/>
<path d="M471 1225.75l2.55 2.55l-2.55 2.55l-2.55 -2.55z"/>
<path d="M492.6 1234.55l2.55 2.55l-2.55 2.55l-2.55 -2.55z"/>
<path d="M469.6 1238.45l2.55 2.55l-2.55 2.55l-2.55 -2.55z"/>
<path d="M470.7 1243.65l2.55 2.55l-2.55 2.55l-2.55 -2.55z"/>
<path d="M456.6 1243.45l2.55 2.55l-2.55 2.55l-2.55 -2.55z"/>
<path d="M451.6 1247.05l2.55 2.55l-2.55 2.55l-2.55 -2.55z"/>
<path d="M463.3 1245.95l2.55 2.55l-2.55 2.55l-2.55 -2.55z"/>
<path d="M477.7 1249.75l2.55 2.55l-2.55 2.55l-2.55 -2.55z"/>
<path d="M483.7 1252.55l2.55 2.55l-2.55 2.55l-2.55 -2.55z"/>
<path d="M490.1 1251.15l2.55 2.55l-2.55 2.55l-2.55 -2.55z"/>
<path d="M453 1252.85l2.55 2.55l-2.55 2.55l-2.55 -2.55z"/>
<path d="M460.5 1251.15l2.55 2.55l-2.55 2.55l-2.55 -2.55z"/>
<path d="M464.4 1253.95l2.55 2.55l-2.55 2.55l-2.55 -2.55z"/>
<path d="M470.7 1254.75l2.55 2.55l-2.55 2.55l-2.55 -2.55z"/>
<path d="M458.8 1259.15l2.55 2.55l-2.55 2.55l-2.55 -2.55z"/>
<path d="M461.6 1260.05l2.55 2.55l-2.55 2.55l-2.55 -2.55z"/>
<path d="M457.7 1261.15l2.55 2.55l-2.55 2.55l-2.55 -2.55z"/>
<path d="M492.6 1257.55l2.55 2.55l-2.55 2.55l-2.55 -2.55z"/>
<path d="M481 1261.45l2.55 2.55l-2.55 2.55l-2.55 -2.55z"/>
<path d="M484.8 1260.05l2.55 2.55l-2.55 2.55l-2.55 -2.55z"/>
<path d="M460.5 1268.85l2.55 2.55l-2.55 2.55l-2.55 -2.55z"/>
<path d="M483.7 1267.75l2.55 2.55l-2.55 2.55l-2.55 -2.55z"/>
<path d="M479.3 1270.55l2.55 2.55l-2.55 2.55l-2.55 -2.55z"/>
<path d="M490.1 1267.75l2.55 2.55l-2.55 2.55l-2.55 -2.55z"/>
<path d="M451.4 1272.75l2.55 2.55l-2.55 2.55l-2.55 -2.55z"/>
<path d="M455 1274.45l2.55 2.55l-2.55 2.55l-2.55 -2.55z"/>
<path d="M452.7 1276.65l2.55 2.55l-2.55 2.55l-2.55 -2.55z"/>
<path d="M469.4 1272.75l2.55 2.55l-2.55 2.55l-2.55 -2.55z"/>
<path d="M486 1274.15l2.55 2.55l-2.55 2.55l-2.55 -2.55z"/>
<path d="M491.5 1275.55l2.55 2.55l-2.55 2.55l-2.55 -2.55z"/>
<path d="M464.4 1279.35l2.55 2.55l-2.55 2.55l-2.55 -2.55z"/>
<path d="M458 1281.65l2.55 2.55l-2.55 2.55l-2.55 -2.55z"/>
<path d="M468.2 1282.75l2.55 2.55l-2.55 2.55l-2.55 -2.55z"/>
<path d="M474.3 1284.35l2.55 2.55l-2.55 2.55l-2.55 -2.55z"/>
<path d="M488.2 1283.55l2.55 2.55l-2.55 2.55l-2.55 -2.55z"/>
<path d="M456.6 1290.45l2.55 2.55l-2.55 2.55l-2.55 -2.55z"/>
<path d="M459.4 1293.25l2.55 2.55l-2.55 2.55l-2.55 -2.55z"/>
<path d="M479.6 1290.45l2.55 2.55l-2.55 2.55l-2.55 -2.55z"/>
<path d="M484.6 1294.05l2.55 2.55l-2.55 2.55l-2.55 -2.55z"/>
<path d="M483.7 1295.95l2.55 2.55l-2.55 2.55l-2.55 -2.55z"/>
<path d="M452.7 1295.95l2.55 2.55l-2.55 2.55l-2.55 -2.55z"/>
<path d="M454.1 1300.95l2.55 2.55l-2.55 2.55l-2.55 -2.55z"/>
<path d="M465.5 1297.15l2.55 2.55l-2.55 2.55l-2.55 -2.55z"/>
<path d="M465.5 1300.95l2.55 2.55l-2.55 2.55l-2.55 -2.55z"/>
<path d="M474.9 1295.95l2.55 2.55l-2.55 2.55l-2.55 -2.55z"/>
<path d="M491.5 1297.15l2.55 2.55l-2.55 2.55l-2.55 -2.55z"/>
<path d="M487.6 1301.55l2.55 2.55l-2.55 2.55l-2.55 -2.55z"/>
<path d="M489.8 1305.95l2.55 2.55l-2.55 2.55l-2.55 -2.55z"/>
<path d="M481 1303.75l2.55 2.55l-2.55 2.55l-2.55 -2.55z"/>
<path d="M452.2 1310.35l2.55 2.55l-2.55 2.55l-2.55 -2.55z"/>
<path d="M455.5 1308.15l2.55 2.55l-2.55 2.55l-2.55 -2.55z"/>
<path d="M481.5 1315.95l2.55 2.55l-2.55 2.55l-2.55 -2.55z"/>
<path d="M455.5 1324.05l2.55 2.55l-2.55 2.55l-2.55 -2.55z"/>
<path d="M451.6 1327.95l2.55 2.55l-2.55 2.55l-2.55 -2.55z"/>
<path d="M468.2 1324.05l2.55 2.55l-2.55 2.55l-2.55 -2.55z"/>
<path d="M467.7 1327.35l2.55 2.55l-2.55 2.55l-2.55 -2.55z"/>
<path d="M473.5 1326.85l2.55 2.55l-2.55 2.55l-2.55 -2.55z"/>
<path d="M478.2 1324.05l2.55 2.55l-2.55 2.55l-2.55 -2.55z"/>
<path d="M481 1327.95l2.55 2.55l-2.55 2.55l-2.55 -2.55z"/>
<path d="M484.8 1322.95l2.55 2.55l-2.55 2.55l-2.55 -2.55z"/>
<path d="M484.8 1324.65l2.55 2.55l-2.55 2.55l-2.55 -2.55z"/>
<path d="M491.5 1325.15l2.55 2.55l-2.55 2.55l-2.55 -2.55z"/>
<path d="M491.5 1329.55l2.55 2.55l-2.55 2.55l-2.55 -2.55z"/>
<path d="M472.1 1336.75l2.55 2.55l-2.55 2.55l-2.55 -2.55z"/>
<path d="M456.6 1340.65l2.55 2.55l-2.55 2.55l-2.55 -2.55z"/>
<path d="M460.5 1347.05l2.55 2.55l-2.55 2.55l-2.55 -2.55z"/>
<path d="M479.9 1343.45l2.55 2.55l-2.55 2.55l-2.55 -2.55z"/>
<path d="M481 1348.45l2.55 2.55l-2.55 2.55l-2.55 -2.55z"/>
<path d="M488.7 1347.05l2.55 2.55l-2.55 2.55l-2.55 -2.55z"/>
<path d="M467.1 1357.25l2.55 2.55l-2.55 2.55l-2.55 -2.55z"/>
<path d="M483.7 1361.15l2.55 2.55l-2.55 2.55l-2.55 -2.55z"/>
<path d="M468.2 1378.05l2.55 2.55l-2.55 2.55l-2.55 -2.55z"/>
<path d="M470.7 1375.25l2.55 2.55l-2.55 2.55l-2.55 -2.55z"/>
</g>
<path d="M155 1247.8 L472.8 1289.7" fill="none" stroke="#000" stroke-width="2.6" stroke-linejoin="round"/>
<line x1="155" y1="1225.9" x2="155" y2="1268.5" stroke="#000" stroke-width="2.6"/>
<line x1="472.8" y1="1260.4" x2="472.8" y2="1319.7" stroke="#000" stroke-width="2.6"/>
<path d="M73.6 1126.3 V1527.9 H553.1" fill="none" stroke="#000" stroke-width="1.5" stroke-linejoin="round"/>
<line x1="66.8" y1="1510.2" x2="73.6" y2="1510.2" stroke="#333333" stroke-width="1.5"/>
<text transform="translate(61.45 1510.8) scale(1 1.07)" y="7.15" font-size="20" fill="#4d4d4d" text-anchor="end" letter-spacing="0.45">0.0</text>
<line x1="66.8" y1="1419.08" x2="73.6" y2="1419.08" stroke="#333333" stroke-width="1.5"/>
<text transform="translate(61.45 1419.67) scale(1 1.07)" y="7.15" font-size="20" fill="#4d4d4d" text-anchor="end" letter-spacing="0.45">0.5</text>
<line x1="66.8" y1="1327.95" x2="73.6" y2="1327.95" stroke="#333333" stroke-width="1.5"/>
<text transform="translate(61.45 1328.55) scale(1 1.07)" y="7.15" font-size="20" fill="#4d4d4d" text-anchor="end" letter-spacing="0.45">1.0</text>
<line x1="66.8" y1="1236.83" x2="73.6" y2="1236.83" stroke="#333333" stroke-width="1.5"/>
<text transform="translate(61.45 1237.42) scale(1 1.07)" y="7.15" font-size="20" fill="#4d4d4d" text-anchor="end" letter-spacing="0.45">1.5</text>
<line x1="66.8" y1="1145.7" x2="73.6" y2="1145.7" stroke="#333333" stroke-width="1.5"/>
<text transform="translate(61.45 1146.3) scale(1 1.07)" y="7.15" font-size="20" fill="#4d4d4d" text-anchor="end" letter-spacing="0.45">2.0</text>
<line x1="155" y1="1527.9" x2="155" y2="1533.5" stroke="#333333" stroke-width="1.5"/>
<text transform="translate(155 1549) scale(1 1.07)" y="7.15" font-size="20" fill="#4d4d4d" text-anchor="middle">live</text>
<line x1="472.8" y1="1527.9" x2="472.8" y2="1533.5" stroke="#333333" stroke-width="1.5"/>
<text transform="translate(472.8 1549) scale(1 1.07)" y="7.15" font-size="20" fill="#4d4d4d" text-anchor="middle">dead</text>
<text x="0" y="0" font-size="25" fill="#000" text-anchor="start" transform="translate(22.8 1368.5) rotate(-90) scale(1 1.05)">Density</text>
<text x="780.7" y="1106" font-size="30" fill="#000" text-anchor="start">g)</text>
<line x1="868" y1="1126.3" x2="868" y2="1527.9" stroke="#1a1a1a" stroke-width="1.4"/>
<line x1="860" y1="1184.07" x2="951.5" y2="1184.07" stroke="#3d8390" stroke-width="1.5"/>
<circle cx="906.2" cy="1184.07" r="7.1" fill="#00798c"/>
<line x1="765.3" y1="1184.07" x2="772.1" y2="1184.07" stroke="#333333" stroke-width="1.5"/>
<text transform="translate(759.17 1186.07) scale(1 1.07)" y="7.15" font-size="20" fill="#4d4d4d" text-anchor="end" letter-spacing="-0.33">(Intercept)</text>
<circle cx="868" cy="1279.69" r="7.1" fill="#00798c"/>
<line x1="765.3" y1="1279.69" x2="772.1" y2="1279.69" stroke="#333333" stroke-width="1.5"/>
<text transform="translate(759.5 1280.29) scale(1 1.07)" y="7.15" font-size="20" fill="#4d4d4d" text-anchor="end">Year</text>
<line x1="907.4" y1="1375.31" x2="1155.1" y2="1375.31" stroke="#3d8390" stroke-width="1.5"/>
<circle cx="1031.8" cy="1375.31" r="7.1" fill="#00798c"/>
<line x1="765.3" y1="1375.31" x2="772.1" y2="1375.31" stroke="#333333" stroke-width="1.5"/>
<text transform="translate(759.5 1377.31) scale(1 1.07)" y="7.15" font-size="20" fill="#4d4d4d" text-anchor="end">Status [dead]</text>
<circle cx="867.3" cy="1470.93" r="7.1" fill="#00798c"/>
<line x1="765.3" y1="1470.93" x2="772.1" y2="1470.93" stroke="#333333" stroke-width="1.5"/>
<text transform="translate(759.5 1472.93) scale(1 1.07)" y="7.15" font-size="20" fill="#4d4d4d" text-anchor="end">Year × Status [dead]</text>
<path d="M772.1 1126.3 V1527.9 H1253.5" fill="none" stroke="#000" stroke-width="1.5" stroke-linejoin="round"/>
<line x1="795" y1="1527.9" x2="795" y2="1533.5" stroke="#333333" stroke-width="1.5"/>
<text transform="translate(794.52 1549) scale(1 1.07)" y="7.15" font-size="20" fill="#4d4d4d" text-anchor="middle" letter-spacing="0.45">-10</text>
<line x1="868" y1="1527.9" x2="868" y2="1533.5" stroke="#333333" stroke-width="1.5"/>
<text transform="translate(867.52 1549) scale(1 1.07)" y="7.15" font-size="20" fill="#4d4d4d" text-anchor="middle" letter-spacing="0.45">0</text>
<line x1="941" y1="1527.9" x2="941" y2="1533.5" stroke="#333333" stroke-width="1.5"/>
<text transform="translate(940.52 1549) scale(1 1.07)" y="7.15" font-size="20" fill="#4d4d4d" text-anchor="middle" letter-spacing="0.45">10</text>
<line x1="1014" y1="1527.9" x2="1014" y2="1533.5" stroke="#333333" stroke-width="1.5"/>
<text transform="translate(1013.52 1549) scale(1 1.07)" y="7.15" font-size="20" fill="#4d4d4d" text-anchor="middle" letter-spacing="0.45">20</text>
<line x1="1087" y1="1527.9" x2="1087" y2="1533.5" stroke="#333333" stroke-width="1.5"/>
<text transform="translate(1086.53 1549) scale(1 1.07)" y="7.15" font-size="20" fill="#4d4d4d" text-anchor="middle" letter-spacing="0.45">30</text>
<line x1="1160" y1="1527.9" x2="1160" y2="1533.5" stroke="#333333" stroke-width="1.5"/>
<text transform="translate(1159.53 1549) scale(1 1.07)" y="7.15" font-size="20" fill="#4d4d4d" text-anchor="middle" letter-spacing="0.45">40</text>
<line x1="1233" y1="1527.9" x2="1233" y2="1533.5" stroke="#333333" stroke-width="1.5"/>
<text transform="translate(1232.53 1549) scale(1 1.07)" y="7.15" font-size="20" fill="#4d4d4d" text-anchor="middle" letter-spacing="0.45">50</text>
<text x="1359.8" y="1106" font-size="30" fill="#000" text-anchor="start">k)</text>
<polygon points="1373.4,1211.7 1811.9,1229.4 1811.9,1274.1 1373.4,1265.2" fill="#0000ff" fill-opacity="0.133" shape-rendering="crispEdges"/>
<polygon points="1373.4,1168.1 1384.36,1171.55 1395.33,1175 1406.29,1178.46 1417.25,1181.92 1428.21,1185.38 1439.18,1188.84 1450.14,1192.3 1461.1,1195.76 1472.06,1199.22 1483.03,1202.66 1493.99,1206.1 1504.95,1209.53 1515.91,1212.94 1526.88,1216.35 1537.84,1219.74 1548.8,1223.15 1559.76,1226.58 1570.73,1230.01 1581.69,1233.42 1592.65,1236.78 1603.61,1240.07 1614.58,1243.28 1625.54,1246.37 1636.5,1249.32 1647.46,1252.14 1658.43,1254.85 1669.39,1257.45 1680.35,1259.96 1691.31,1262.4 1702.28,1264.76 1713.24,1267.07 1724.2,1269.33 1735.16,1271.55 1746.12,1273.69 1757.09,1275.67 1768.05,1277.52 1779.01,1279.3 1789.98,1281.04 1800.94,1282.79 1811.9,1284.6 1811.9,1350 1800.94,1347.46 1789.98,1344.9 1779.01,1342.35 1768.05,1339.79 1757.09,1337.23 1746.12,1334.67 1735.16,1332.12 1724.2,1329.58 1713.24,1327.06 1702.28,1324.54 1691.31,1322.05 1680.35,1319.56 1669.39,1316.99 1658.43,1314.41 1647.46,1311.88 1636.5,1309.47 1625.54,1307.25 1614.58,1305.28 1603.61,1303.61 1592.65,1302.15 1581.69,1300.87 1570.73,1299.7 1559.76,1298.61 1548.8,1297.54 1537.84,1296.45 1526.88,1295.3 1515.91,1294.02 1504.95,1292.61 1493.99,1291.14 1483.03,1289.63 1472.06,1288.1 1461.1,1286.54 1450.14,1284.96 1439.18,1283.37 1428.21,1281.77 1417.25,1280.16 1406.29,1278.56 1395.33,1276.96 1384.36,1275.37 1373.4,1273.8" fill="#bb3838" fill-opacity="0.133" shape-rendering="crispEdges"/>
<path d="M1373.4 1237.7 L1811.9 1251.9" fill="none" stroke="#1c1cc0" stroke-width="1.5"/>
<path d="M1373.4 1221.2 L1384.36 1223.46 L1395.33 1225.69 L1406.29 1227.91 L1417.25 1230.14 L1428.21 1232.38 L1439.18 1234.66 L1450.14 1236.99 L1461.1 1239.39 L1472.06 1241.85 L1483.03 1244.35 L1493.99 1246.89 L1504.95 1249.46 L1515.91 1252.04 L1526.88 1254.64 L1537.84 1257.23 L1548.8 1259.82 L1559.76 1262.38 L1570.73 1264.92 L1581.69 1267.45 L1592.65 1269.99 L1603.61 1272.54 L1614.58 1275.08 L1625.54 1277.6 L1636.5 1280.11 L1647.46 1282.6 L1658.43 1285.06 L1669.39 1287.48 L1680.35 1289.86 L1691.31 1292.2 L1702.28 1294.51 L1713.24 1296.78 L1724.2 1299.04 L1735.16 1301.28 L1746.12 1303.5 L1757.09 1305.71 L1768.05 1307.92 L1779.01 1310.13 L1789.98 1312.34 L1800.94 1314.56 L1811.9 1316.8" fill="none" stroke="#8c3338" stroke-width="1.5"/>
<path d="M1351.9 1126.3 V1527.9 H1832.8" fill="none" stroke="#000" stroke-width="1.5" stroke-linejoin="round"/>
<line x1="1345.1" y1="1510.2" x2="1351.9" y2="1510.2" stroke="#333333" stroke-width="1.5"/>
<text transform="translate(1339.75 1510.8) scale(1 1.07)" y="7.15" font-size="20" fill="#4d4d4d" text-anchor="end" letter-spacing="0.45">0.0</text>
<line x1="1345.1" y1="1419.08" x2="1351.9" y2="1419.08" stroke="#333333" stroke-width="1.5"/>
<text transform="translate(1339.75 1419.67) scale(1 1.07)" y="7.15" font-size="20" fill="#4d4d4d" text-anchor="end" letter-spacing="0.45">0.5</text>
<line x1="1345.1" y1="1327.95" x2="1351.9" y2="1327.95" stroke="#333333" stroke-width="1.5"/>
<text transform="translate(1339.75 1328.55) scale(1 1.07)" y="7.15" font-size="20" fill="#4d4d4d" text-anchor="end" letter-spacing="0.45">1.0</text>
<line x1="1345.1" y1="1236.83" x2="1351.9" y2="1236.83" stroke="#333333" stroke-width="1.5"/>
<text transform="translate(1339.75 1237.42) scale(1 1.07)" y="7.15" font-size="20" fill="#4d4d4d" text-anchor="end" letter-spacing="0.45">1.5</text>
<line x1="1345.1" y1="1145.7" x2="1351.9" y2="1145.7" stroke="#333333" stroke-width="1.5"/>
<text transform="translate(1339.75 1146.3) scale(1 1.07)" y="7.15" font-size="20" fill="#4d4d4d" text-anchor="end" letter-spacing="0.45">2.0</text>
<line x1="1373.4" y1="1527.9" x2="1373.4" y2="1533.5" stroke="#333333" stroke-width="1.5"/>
<text transform="translate(1372.93 1549) scale(1 1.07)" y="7.15" font-size="20" fill="#4d4d4d" text-anchor="middle" letter-spacing="0.45">1980</text>
<line x1="1483.03" y1="1527.9" x2="1483.03" y2="1533.5" stroke="#333333" stroke-width="1.5"/>
<text transform="translate(1482.55 1549) scale(1 1.07)" y="7.15" font-size="20" fill="#4d4d4d" text-anchor="middle" letter-spacing="0.45">1990</text>
<line x1="1592.65" y1="1527.9" x2="1592.65" y2="1533.5" stroke="#333333" stroke-width="1.5"/>
<text transform="translate(1592.18 1549) scale(1 1.07)" y="7.15" font-size="20" fill="#4d4d4d" text-anchor="middle" letter-spacing="0.45">2000</text>
<line x1="1702.28" y1="1527.9" x2="1702.28" y2="1533.5" stroke="#333333" stroke-width="1.5"/>
<text transform="translate(1701.8 1549) scale(1 1.07)" y="7.15" font-size="20" fill="#4d4d4d" text-anchor="middle" letter-spacing="0.45">2010</text>
<line x1="1811.9" y1="1527.9" x2="1811.9" y2="1533.5" stroke="#333333" stroke-width="1.5"/>
<text transform="translate(1811.43 1549) scale(1 1.07)" y="7.15" font-size="20" fill="#4d4d4d" text-anchor="middle" letter-spacing="0.45">2020</text>
<text x="0" y="0" font-size="25" fill="#000" text-anchor="start" transform="translate(1301.1 1368.5) rotate(-90) scale(1 1.05)">Density</text>
<text x="73.1" y="1641.5" font-size="30" fill="#000" text-anchor="start" font-style="italic">d)</text>
<text x="154.4" y="1641.5" font-size="30" fill="#000" text-anchor="start" font-style="italic" letter-spacing="0.3">Orbicella faveolata</text>
<g fill="#4a6282" fill-opacity="0.85" stroke="#1c2838" stroke-opacity="0.7" stroke-width="0.8">
<path d="M168.7 1759.05l2.55 2.55l-2.55 2.55l-2.55 -2.55z"/>
<path d="M147.1 1792.25l2.55 2.55l-2.55 2.55l-2.55 -2.55z"/>
<path d="M156 1810.25l2.55 2.55l-2.55 2.55l-2.55 -2.55z"/>
<path d="M158.5 1819.15l2.55 2.55l-2.55 2.55l-2.55 -2.55z"/>
<path d="M156.8 1825.45l2.55 2.55l-2.55 2.55l-2.55 -2.55z"/>
<path d="M155.7 1827.15l2.55 2.55l-2.55 2.55l-2.55 -2.55z"/>
<path d="M164.8 1824.35l2.55 2.55l-2.55 2.55l-2.55 -2.55z"/>
<path d="M167.6 1822.75l2.55 2.55l-2.55 2.55l-2.55 -2.55z"/>
<path d="M143.3 1831.25l2.55 2.55l-2.55 2.55l-2.55 -2.55z"/>
<path d="M133 1847.35l2.55 2.55l-2.55 2.55l-2.55 -2.55z"/>
<path d="M135.5 1852.55l2.55 2.55l-2.55 2.55l-2.55 -2.55z"/>
<path d="M161 1848.75l2.55 2.55l-2.55 2.55l-2.55 -2.55z"/>
<path d="M166.2 1849.85l2.55 2.55l-2.55 2.55l-2.55 -2.55z"/>
<path d="M172.6 1843.75l2.55 2.55l-2.55 2.55l-2.55 -2.55z"/>
<path d="M145.8 1857.75l2.55 2.55l-2.55 2.55l-2.55 -2.55z"/>
<path d="M154.9 1856.35l2.55 2.55l-2.55 2.55l-2.55 -2.55z"/>
<path d="M166.2 1856.35l2.55 2.55l-2.55 2.55l-2.55 -2.55z"/>
<path d="M149.9 1865.45l2.55 2.55l-2.55 2.55l-2.55 -2.55z"/>
<path d="M138 1875.65l2.55 2.55l-2.55 2.55l-2.55 -2.55z"/>
<path d="M144.4 1875.65l2.55 2.55l-2.55 2.55l-2.55 -2.55z"/>
<path d="M165.1 1879.25l2.55 2.55l-2.55 2.55l-2.55 -2.55z"/>
<path d="M148.2 1884.55l2.55 2.55l-2.55 2.55l-2.55 -2.55z"/>
<path d="M158.8 1888.45l2.55 2.55l-2.55 2.55l-2.55 -2.55z"/>
<path d="M161 1888.45l2.55 2.55l-2.55 2.55l-2.55 -2.55z"/>
<path d="M170.1 1889.55l2.55 2.55l-2.55 2.55l-2.55 -2.55z"/>
<path d="M172.6 1890.95l2.55 2.55l-2.55 2.55l-2.55 -2.55z"/>
<path d="M144.4 1896.15l2.55 2.55l-2.55 2.55l-2.55 -2.55z"/>
<path d="M138 1899.75l2.55 2.55l-2.55 2.55l-2.55 -2.55z"/>
<path d="M134.1 1905.05l2.55 2.55l-2.55 2.55l-2.55 -2.55z"/>
<path d="M151 1903.65l2.55 2.55l-2.55 2.55l-2.55 -2.55z"/>
<path d="M145.8 1907.55l2.55 2.55l-2.55 2.55l-2.55 -2.55z"/>
<path d="M171.5 1905.05l2.55 2.55l-2.55 2.55l-2.55 -2.55z"/>
<path d="M135.5 1915.25l2.55 2.55l-2.55 2.55l-2.55 -2.55z"/>
<path d="M138 1920.25l2.55 2.55l-2.55 2.55l-2.55 -2.55z"/>
<path d="M151 1919.15l2.55 2.55l-2.55 2.55l-2.55 -2.55z"/>
<path d="M141.9 1938.25l2.55 2.55l-2.55 2.55l-2.55 -2.55z"/>
<path d="M167.6 1935.75l2.55 2.55l-2.55 2.55l-2.55 -2.55z"/>
<path d="M139.4 1945.95l2.55 2.55l-2.55 2.55l-2.55 -2.55z"/>
<path d="M470.7 1744.95l2.55 2.55l-2.55 2.55l-2.55 -2.55z"/>
<path d="M472.1 1771.75l2.55 2.55l-2.55 2.55l-2.55 -2.55z"/>
<path d="M491.2 1781.95l2.55 2.55l-2.55 2.55l-2.55 -2.55z"/>
<path d="M473.2 1796.15l2.55 2.55l-2.55 2.55l-2.55 -2.55z"/>
<path d="M481 1795.05l2.55 2.55l-2.55 2.55l-2.55 -2.55z"/>
<path d="M491.2 1810.25l2.55 2.55l-2.55 2.55l-2.55 -2.55z"/>
<path d="M482.4 1815.45l2.55 2.55l-2.55 2.55l-2.55 -2.55z"/>
<path d="M456.6 1819.05l2.55 2.55l-2.55 2.55l-2.55 -2.55z"/>
<path d="M460.5 1822.95l2.55 2.55l-2.55 2.55l-2.55 -2.55z"/>
<path d="M490.1 1820.45l2.55 2.55l-2.55 2.55l-2.55 -2.55z"/>
<path d="M491.2 1828.25l2.55 2.55l-2.55 2.55l-2.55 -2.55z"/>
<path d="M454.1 1830.65l2.55 2.55l-2.55 2.55l-2.55 -2.55z"/>
<path d="M461.9 1833.15l2.55 2.55l-2.55 2.55l-2.55 -2.55z"/>
<path d="M470.7 1834.55l2.55 2.55l-2.55 2.55l-2.55 -2.55z"/>
<path d="M455.5 1842.35l2.55 2.55l-2.55 2.55l-2.55 -2.55z"/>
<path d="M461.9 1844.85l2.55 2.55l-2.55 2.55l-2.55 -2.55z"/>
<path d="M472.1 1842.05l2.55 2.55l-2.55 2.55l-2.55 -2.55z"/>
<path d="M469.6 1849.05l2.55 2.55l-2.55 2.55l-2.55 -2.55z"/>
<path d="M469.4 1854.05l2.55 2.55l-2.55 2.55l-2.55 -2.55z"/>
<path d="M474.9 1851.85l2.55 2.55l-2.55 2.55l-2.55 -2.55z"/>
<path d="M476.3 1856.25l2.55 2.55l-2.55 2.55l-2.55 -2.55z"/>
<path d="M457.2 1856.25l2.55 2.55l-2.55 2.55l-2.55 -2.55z"/>
<path d="M460.5 1856.25l2.55 2.55l-2.55 2.55l-2.55 -2.55z"/>
<path d="M452.7 1860.15l2.55 2.55l-2.55 2.55l-2.55 -2.55z"/>
<path d="M481 1866.55l2.55 2.55l-2.55 2.55l-2.55 -2.55z"/>
<path d="M486.2 1864.55l2.55 2.55l-2.55 2.55l-2.55 -2.55z"/>
<path d="M451.4 1868.75l2.55 2.55l-2.55 2.55l-2.55 -2.55z"/>
<path d="M452.7 1871.75l2.55 2.55l-2.55 2.55l-2.55 -2.55z"/>
<path d="M454.1 1875.65l2.55 2.55l-2.55 2.55l-2.55 -2.55z"/>
<path d="M455.5 1879.55l2.55 2.55l-2.55 2.55l-2.55 -2.55z"/>
<path d="M486.2 1874.25l2.55 2.55l-2.55 2.55l-2.55 -2.55z"/>
<path d="M469.6 1876.75l2.55 2.55l-2.55 2.55l-2.55 -2.55z"/>
<path d="M474.3 1876.75l2.55 2.55l-2.55 2.55l-2.55 -2.55z"/>
<path d="M463 1881.75l2.55 2.55l-2.55 2.55l-2.55 -2.55z"/>
<path d="M463 1884.55l2.55 2.55l-2.55 2.55l-2.55 -2.55z"/>
<path d="M470.7 1883.45l2.55 2.55l-2.55 2.55l-2.55 -2.55z"/>
<path d="M451.6 1884.55l2.55 2.55l-2.55 2.55l-2.55 -2.55z"/>
<path d="M458 1886.75l2.55 2.55l-2.55 2.55l-2.55 -2.55z"/>
<path d="M458.6 1890.85l2.55 2.55l-2.55 2.55l-2.55 -2.55z"/>
<path d="M464.4 1888.35l2.55 2.55l-2.55 2.55l-2.55 -2.55z"/>
<path d="M479.6 1884.55l2.55 2.55l-2.55 2.55l-2.55 -2.55z"/>
<path d="M477.4 1888.35l2.55 2.55l-2.55 2.55l-2.55 -2.55z"/>
<path d="M490.1 1887.55l2.55 2.55l-2.55 2.55l-2.55 -2.55z"/>
<path d="M458 1899.75l2.55 2.55l-2.55 2.55l-2.55 -2.55z"/>
<path d="M473.2 1899.75l2.55 2.55l-2.55 2.55l-2.55 -2.55z"/>
<path d="M476 1903.65l2.55 2.55l-2.55 2.55l-2.55 -2.55z"/>
<path d="M469.4 1903.65l2.55 2.55l-2.55 2.55l-2.55 -2.55z"/>
<path d="M482.4 1903.65l2.55 2.55l-2.55 2.55l-2.55 -2.55z"/>
<path d="M488.7 1903.65l2.55 2.55l-2.55 2.55l-2.55 -2.55z"/>
<path d="M487.3 1906.65l2.55 2.55l-2.55 2.55l-2.55 -2.55z"/>
<path d="M455.5 1911.35l2.55 2.55l-2.55 2.55l-2.55 -2.55z"/>
<path d="M464.4 1912.75l2.55 2.55l-2.55 2.55l-2.55 -2.55z"/>
<path d="M488.7 1912.75l2.55 2.55l-2.55 2.55l-2.55 -2.55z"/>
<path d="M492.6 1920.25l2.55 2.55l-2.55 2.55l-2.55 -2.55z"/>
<path d="M474.6 1949.55l2.55 2.55l-2.55 2.55l-2.55 -2.55z"/>
</g>
<path d="M152.4 1865.3 L472.8 1865.3" fill="none" stroke="#000" stroke-width="2.6" stroke-linejoin="round"/>
<line x1="152.4" y1="1842.3" x2="152.4" y2="1885.2" stroke="#000" stroke-width="2.6"/>
<line x1="472.8" y1="1848.9" x2="472.8" y2="1881.3" stroke="#000" stroke-width="2.6"/>
<path d="M73.6 1666.3 V2066.8 H553.1" fill="none" stroke="#000" stroke-width="1.5" stroke-linejoin="round"/>
<line x1="66.8" y1="2049" x2="73.6" y2="2049" stroke="#333333" stroke-width="1.5"/>
<text transform="translate(61.45 2049.6) scale(1 1.07)" y="7.15" font-size="20" fill="#4d4d4d" text-anchor="end" letter-spacing="0.45">0.0</text>
<line x1="66.8" y1="1957.78" x2="73.6" y2="1957.78" stroke="#333333" stroke-width="1.5"/>
<text transform="translate(61.45 1958.38) scale(1 1.07)" y="7.15" font-size="20" fill="#4d4d4d" text-anchor="end" letter-spacing="0.45">0.5</text>
<line x1="66.8" y1="1866.55" x2="73.6" y2="1866.55" stroke="#333333" stroke-width="1.5"/>
<text transform="translate(61.45 1867.15) scale(1 1.07)" y="7.15" font-size="20" fill="#4d4d4d" text-anchor="end" letter-spacing="0.45">1.0</text>
<line x1="66.8" y1="1775.32" x2="73.6" y2="1775.32" stroke="#333333" stroke-width="1.5"/>
<text transform="translate(61.45 1775.92) scale(1 1.07)" y="7.15" font-size="20" fill="#4d4d4d" text-anchor="end" letter-spacing="0.45">1.5</text>
<line x1="66.8" y1="1684.1" x2="73.6" y2="1684.1" stroke="#333333" stroke-width="1.5"/>
<text transform="translate(61.45 1684.7) scale(1 1.07)" y="7.15" font-size="20" fill="#4d4d4d" text-anchor="end" letter-spacing="0.45">2.0</text>
<line x1="152.4" y1="2066.8" x2="152.4" y2="2072.4" stroke="#333333" stroke-width="1.5"/>
<text transform="translate(152.4 2087.9) scale(1 1.07)" y="7.15" font-size="20" fill="#4d4d4d" text-anchor="middle">live</text>
<line x1="472.8" y1="2066.8" x2="472.8" y2="2072.4" stroke="#333333" stroke-width="1.5"/>
<text transform="translate(472.8 2087.9) scale(1 1.07)" y="7.15" font-size="20" fill="#4d4d4d" text-anchor="middle">dead</text>
<text x="0" y="0" font-size="25" fill="#000" text-anchor="start" transform="translate(22.8 1908.5) rotate(-90) scale(1 1.05)">Density</text>
<text x="780.7" y="1644.5" font-size="30" fill="#000" text-anchor="start">h)</text>
<line x1="1013.8" y1="1666.3" x2="1013.8" y2="2066.8" stroke="#1a1a1a" stroke-width="1.4"/>
<line x1="939.5" y1="1723.91" x2="1182.4" y2="1723.91" stroke="#3f4c5f" stroke-width="1.5"/>
<circle cx="1061.1" cy="1723.91" r="7.1" fill="#2e4057"/>
<line x1="765.3" y1="1723.91" x2="772.1" y2="1723.91" stroke="#333333" stroke-width="1.5"/>
<text transform="translate(759.17 1725.91) scale(1 1.07)" y="7.15" font-size="20" fill="#4d4d4d" text-anchor="end" letter-spacing="-0.33">(Intercept)</text>
<circle cx="1013.8" cy="1819.27" r="7.1" fill="#2e4057"/>
<line x1="765.3" y1="1819.27" x2="772.1" y2="1819.27" stroke="#333333" stroke-width="1.5"/>
<text transform="translate(759.5 1819.87) scale(1 1.07)" y="7.15" font-size="20" fill="#4d4d4d" text-anchor="end">Year</text>
<line x1="821.9" y1="1914.63" x2="1134.6" y2="1914.63" stroke="#3f4c5f" stroke-width="1.5"/>
<circle cx="979.6" cy="1914.63" r="7.1" fill="#2e4057"/>
<line x1="765.3" y1="1914.63" x2="772.1" y2="1914.63" stroke="#333333" stroke-width="1.5"/>
<text transform="translate(759.5 1916.63) scale(1 1.07)" y="7.15" font-size="20" fill="#4d4d4d" text-anchor="end">Status [dead]</text>
<circle cx="1013.8" cy="2009.99" r="7.1" fill="#2e4057"/>
<line x1="765.3" y1="2009.99" x2="772.1" y2="2009.99" stroke="#333333" stroke-width="1.5"/>
<text transform="translate(759.5 2011.99) scale(1 1.07)" y="7.15" font-size="20" fill="#4d4d4d" text-anchor="end">Year × Status [dead]</text>
<path d="M772.1 1666.3 V2066.8 H1253.5" fill="none" stroke="#000" stroke-width="1.5" stroke-linejoin="round"/>
<line x1="794.8" y1="2066.8" x2="794.8" y2="2072.4" stroke="#333333" stroke-width="1.5"/>
<text transform="translate(794.32 2087.9) scale(1 1.07)" y="7.15" font-size="20" fill="#4d4d4d" text-anchor="middle" letter-spacing="0.45">-60</text>
<line x1="867.8" y1="2066.8" x2="867.8" y2="2072.4" stroke="#333333" stroke-width="1.5"/>
<text transform="translate(867.32 2087.9) scale(1 1.07)" y="7.15" font-size="20" fill="#4d4d4d" text-anchor="middle" letter-spacing="0.45">-40</text>
<line x1="940.8" y1="2066.8" x2="940.8" y2="2072.4" stroke="#333333" stroke-width="1.5"/>
<text transform="translate(940.32 2087.9) scale(1 1.07)" y="7.15" font-size="20" fill="#4d4d4d" text-anchor="middle" letter-spacing="0.45">-20</text>
<line x1="1013.8" y1="2066.8" x2="1013.8" y2="2072.4" stroke="#333333" stroke-width="1.5"/>
<text transform="translate(1013.32 2087.9) scale(1 1.07)" y="7.15" font-size="20" fill="#4d4d4d" text-anchor="middle" letter-spacing="0.45">0</text>
<line x1="1086.8" y1="2066.8" x2="1086.8" y2="2072.4" stroke="#333333" stroke-width="1.5"/>
<text transform="translate(1086.33 2087.9) scale(1 1.07)" y="7.15" font-size="20" fill="#4d4d4d" text-anchor="middle" letter-spacing="0.45">20</text>
<line x1="1159.8" y1="2066.8" x2="1159.8" y2="2072.4" stroke="#333333" stroke-width="1.5"/>
<text transform="translate(1159.33 2087.9) scale(1 1.07)" y="7.15" font-size="20" fill="#4d4d4d" text-anchor="middle" letter-spacing="0.45">40</text>
<line x1="1232.8" y1="2066.8" x2="1232.8" y2="2072.4" stroke="#333333" stroke-width="1.5"/>
<text transform="translate(1232.33 2087.9) scale(1 1.07)" y="7.15" font-size="20" fill="#4d4d4d" text-anchor="middle" letter-spacing="0.45">60</text>
<text x="1359.8" y="1644.5" font-size="30" fill="#000" text-anchor="start">l)</text>
<polygon points="1373.4,1823 1811.9,1843.5 1811.9,1894.3 1373.4,1888.2" fill="#0000ff" fill-opacity="0.133" shape-rendering="crispEdges"/>
<polygon points="1373.4,1839.7 1811.9,1845.4 1811.9,1887.8 1373.4,1888.2" fill="#bb3838" fill-opacity="0.133" shape-rendering="crispEdges"/>
<path d="M1373.4 1855.7 L1811.9 1869.5" fill="none" stroke="#1c1cc0" stroke-width="1.5"/>
<path d="M1373.4 1863.4 L1811.9 1867" fill="none" stroke="#8c3338" stroke-width="1.5"/>
<path d="M1351.9 1666.3 V2066.8 H1832.8" fill="none" stroke="#000" stroke-width="1.5" stroke-linejoin="round"/>
<line x1="1345.1" y1="2049" x2="1351.9" y2="2049" stroke="#333333" stroke-width="1.5"/>
<text transform="translate(1339.75 2049.6) scale(1 1.07)" y="7.15" font-size="20" fill="#4d4d4d" text-anchor="end" letter-spacing="0.45">0.0</text>
<line x1="1345.1" y1="1957.78" x2="1351.9" y2="1957.78" stroke="#333333" stroke-width="1.5"/>
<text transform="translate(1339.75 1958.38) scale(1 1.07)" y="7.15" font-size="20" fill="#4d4d4d" text-anchor="end" letter-spacing="0.45">0.5</text>
<line x1="1345.1" y1="1866.55" x2="1351.9" y2="1866.55" stroke="#333333" stroke-width="1.5"/>
<text transform="translate(1339.75 1867.15) scale(1 1.07)" y="7.15" font-size="20" fill="#4d4d4d" text-anchor="end" letter-spacing="0.45">1.0</text>
<line x1="1345.1" y1="1775.32" x2="1351.9" y2="1775.32" stroke="#333333" stroke-width="1.5"/>
<text transform="translate(1339.75 1775.92) scale(1 1.07)" y="7.15" font-size="20" fill="#4d4d4d" text-anchor="end" letter-spacing="0.45">1.5</text>
<line x1="1345.1" y1="1684.1" x2="1351.9" y2="1684.1" stroke="#333333" stroke-width="1.5"/>
<text transform="translate(1339.75 1684.7) scale(1 1.07)" y="7.15" font-size="20" fill="#4d4d4d" text-anchor="end" letter-spacing="0.45">2.0</text>
<line x1="1507.7" y1="2066.8" x2="1507.7" y2="2072.4" stroke="#333333" stroke-width="1.5"/>
<text transform="translate(1507.23 2087.9) scale(1 1.07)" y="7.15" font-size="20" fill="#4d4d4d" text-anchor="middle" letter-spacing="0.45">2010</text>
<line x1="1677" y1="2066.8" x2="1677" y2="2072.4" stroke="#333333" stroke-width="1.5"/>
<text transform="translate(1676.53 2087.9) scale(1 1.07)" y="7.15" font-size="20" fill="#4d4d4d" text-anchor="middle" letter-spacing="0.45">2015</text>
<text x="0" y="0" font-size="25" fill="#000" text-anchor="start" transform="translate(1301.1 1908.5) rotate(-90) scale(1 1.05)">Density</text>
<text x="1864.5" y="1017.6" font-size="25" fill="#000" text-anchor="start">Status</text>
<rect x="1869.0" y="1037.1" width="21.9" height="7.7" fill="#0000ff" fill-opacity="0.11"/>
<rect x="1869.0" y="1050" width="21.9" height="8.3" fill="#0000ff" fill-opacity="0.11"/>
<rect x="1866.3" y="1034.6" width="26.8" height="26.3" rx="1.6" fill="none" stroke="#1a1aa0" stroke-width="1.4"/>
<line x1="1868.6" y1="1047.2" x2="1890.6" y2="1047.2" stroke="#1a1aa0" stroke-width="1.6"/>
<text x="1906.5" y="1056.7" font-size="20" fill="#000" text-anchor="start">live</text>
<rect x="1869.0" y="1066.5" width="21.9" height="7.7" fill="#000000" fill-opacity="0.11"/>
<rect x="1869.0" y="1079.4" width="21.9" height="8.3" fill="#000000" fill-opacity="0.11"/>
<rect x="1866.3" y="1064" width="26.8" height="26.3" rx="1.6" fill="none" stroke="#111111" stroke-width="1.4"/>
<line x1="1868.6" y1="1076.6" x2="1890.6" y2="1076.6" stroke="#111111" stroke-width="1.6"/>
<text x="1906.5" y="1086.3" font-size="20" fill="#000" text-anchor="start">dead_1yr</text>
<rect x="1869.0" y="1096" width="21.9" height="7.7" fill="#bb3838" fill-opacity="0.11"/>
<rect x="1869.0" y="1108.9" width="21.9" height="8.3" fill="#bb3838" fill-opacity="0.11"/>
<rect x="1866.3" y="1093.5" width="26.8" height="26.3" rx="1.6" fill="none" stroke="#94383c" stroke-width="1.4"/>
<line x1="1868.6" y1="1106.1" x2="1890.6" y2="1106.1" stroke="#94383c" stroke-width="1.6"/>
<text x="1906.5" y="1115.9" font-size="20" fill="#000" text-anchor="start">dead_2yr</text>
<text x="313.4" y="2125.8" font-size="25" fill="#000" text-anchor="middle">Status</text>
<text x="1012.8" y="2125.8" font-size="25" fill="#000" text-anchor="middle">Coefficent estimate</text>
<text x="1592.3" y="2125.8" font-size="25" fill="#000" text-anchor="middle">Year</text>
</svg>
</body></html>
